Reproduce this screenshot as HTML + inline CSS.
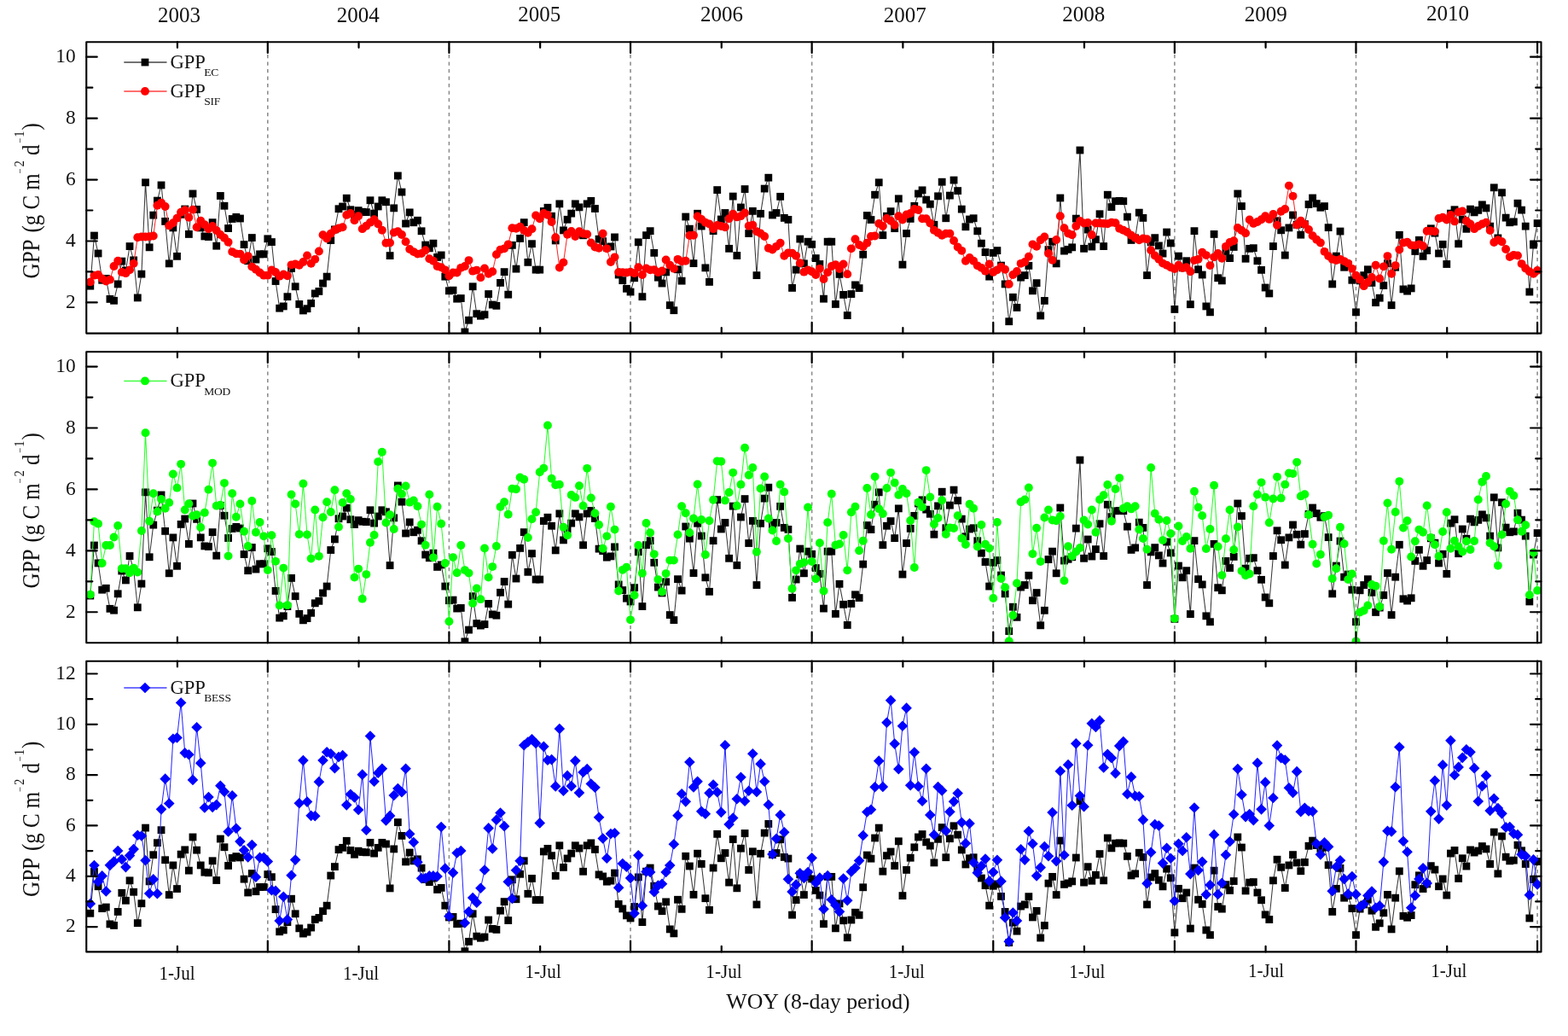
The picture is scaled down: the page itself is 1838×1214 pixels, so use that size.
<!DOCTYPE html>
<html lang="en"><head><meta charset="utf-8"><title>GPP time series: EC, SIF, MOD and BESS</title>
<style>html,body{margin:0;padding:0;background:#fff;overflow:hidden}svg{display:block}text{font-family:"Liberation Serif", "DejaVu Serif", serif;fill:#111}.tk{font-size:23.4px}.yr{font-size:25px}.jl{font-size:24px}.lg{font-size:22.6px}.sb{font-size:13.5px;letter-spacing:-0.2px}.yl{font-size:25px}.sp{font-size:14.5px}.mn{font-size:10.5px}.xl{font-size:25.8px}</style></head><body>
<svg width="1838" height="1214" viewBox="0 0 1838 1214">
<rect width="1838" height="1214" fill="#fff"/>
<defs>
<rect id="sq" x="-4.4" y="-4.4" width="8.8" height="8.8" fill="#000"/>
<circle id="cr" r="4.95" fill="#f00"/>
<circle id="cg" r="4.95" fill="#0f0"/>
<path id="db" d="M0 -6.3L6.3 0L0 6.3L-6.3 0Z" fill="#00f"/>
<clipPath id="clip0"><rect x="101.25" y="49.2" width="1705.25" height="341.4"/></clipPath>
<clipPath id="clip1"><rect x="101.25" y="412.25" width="1705.25" height="341.05"/></clipPath>
<clipPath id="clip2"><rect x="101.25" y="774.7" width="1705.25" height="340.7"/></clipPath>
</defs>
<line x1="313.81" y1="55.55" x2="313.81" y2="390.6" stroke="#8e8e8e" stroke-width="1.6" stroke-dasharray="4.2 4.3"/>
<line x1="526.42" y1="55.55" x2="526.42" y2="390.6" stroke="#8e8e8e" stroke-width="1.6" stroke-dasharray="4.2 4.3"/>
<line x1="739.04" y1="55.55" x2="739.04" y2="390.6" stroke="#8e8e8e" stroke-width="1.6" stroke-dasharray="4.2 4.3"/>
<line x1="951.65" y1="55.55" x2="951.65" y2="390.6" stroke="#8e8e8e" stroke-width="1.6" stroke-dasharray="4.2 4.3"/>
<line x1="1164.26" y1="55.55" x2="1164.26" y2="390.6" stroke="#8e8e8e" stroke-width="1.6" stroke-dasharray="4.2 4.3"/>
<line x1="1376.87" y1="55.55" x2="1376.87" y2="390.6" stroke="#8e8e8e" stroke-width="1.6" stroke-dasharray="4.2 4.3"/>
<line x1="1589.48" y1="55.55" x2="1589.48" y2="390.6" stroke="#8e8e8e" stroke-width="1.6" stroke-dasharray="4.2 4.3"/>
<line x1="1802.1" y1="55.55" x2="1802.1" y2="390.6" stroke="#8e8e8e" stroke-width="1.6" stroke-dasharray="4.2 4.3"/>
<g clip-path="url(#clip0)">
<polyline fill="none" stroke="#383838" stroke-width="1.05" stroke-linejoin="round" points="105.82,335.16 110.44,276.06 115.07,296.97 119.69,328.27 124.31,326.39 128.93,350.43 133.55,352.31 138.18,332.9 142.8,306.11 147.42,317 152.04,288.58 156.66,304.86 161.29,348.93 165.91,321.13 170.53,213.82 175.15,289.83 179.77,252.14 184.4,235.11 189.02,216.95 193.64,259.41 198.26,308.86 202.88,266.92 207.51,300.35 212.13,251.39 216.75,245.01 221.37,274.43 225.99,226.97 230.62,245.38 235.24,266.92 239.86,276.94 244.48,277.56 249.1,260.66 253.73,288.2 258.35,229.47 262.97,241.25 267.59,267.54 272.21,256.53 276.84,254.4 281.46,256.03 286.08,286.58 290.7,305.73 295.32,278.56 299.95,304.1 304.57,297.84 309.19,297.84 313.81,279.81 318.43,283.57 323.06,329.52 327.68,361.2 332.3,358.94 336.92,347.68 341.54,314.5 346.17,335.78 350.79,356.44 355.41,363.95 360.03,361.7 364.65,355.44 369.28,343.92 373.9,341.42 378.52,332.03 383.14,324.14 387.76,281.57 392.39,268.92 397.01,244.75 401.63,241.99 406.25,232.23 410.87,245.75 415.5,251.59 420.12,246.62 424.74,248.25 429.36,248.63 433.98,234.73 438.61,250.13 443.23,241.99 447.85,234.73 452.47,236.73 457.09,299.59 461.72,243.87 466.34,205.93 470.96,225.09 475.58,262.03 480.2,248.88 484.83,260.77 489.45,258.27 494.07,270.79 498.69,287.07 503.31,290.82 507.94,285.19 512.56,301.46 517.18,298.96 521.8,324.14 526.42,340.79 531.05,340.16 535.67,350.18 540.29,349.55 544.91,388.99 549.53,375.22 554.16,335.78 558.78,367.71 563.4,370.21 568.02,368.71 572.64,344.55 577.27,357.07 581.89,358.32 586.51,331.4 591.13,318.63 595.75,345.17 600.38,287.33 605,315.12 609.62,279.44 614.24,260.66 618.86,307.36 623.49,285.7 628.11,316.12 632.73,316.12 637.35,247.51 641.97,243.26 646.6,253.27 651.22,281.94 655.84,238.86 660.46,269.91 665.08,257.27 669.71,250.13 674.33,238.86 678.95,242.87 683.57,275.8 688.19,238.86 692.82,235.36 697.44,244.5 702.06,280.18 706.68,282.68 711.3,290.2 715.93,288.94 720.55,277.93 725.17,322.01 729.79,328.64 734.41,338.29 739.04,342.04 743.66,325.76 748.28,283.82 752.9,347.68 757.52,275.68 762.15,270.68 766.77,296.34 771.39,325.14 776.01,332.03 780.63,318.88 785.26,357.69 789.88,363.7 794.5,315.75 799.12,329.15 803.74,254.02 808.37,268.17 812.99,308.61 817.61,250.27 822.23,265.04 826.85,313.87 831.48,330.4 836.1,270.68 840.72,222.59 845.34,257.02 849.96,249.5 854.59,291.33 859.21,230.1 863.83,299.47 868.45,242.99 873.07,221.58 877.7,273.55 882.32,247.38 886.94,322.63 891.56,250.38 896.18,221.08 900.81,208.19 905.43,252.01 910.05,249.5 914.67,230.35 919.29,255.39 923.92,257.39 928.54,337.41 933.16,316.12 937.78,280.07 942.4,308.86 947.03,283.2 951.65,286.33 956.27,302.6 960.89,309.49 965.51,350.18 970.14,283.2 974.76,283.2 979.38,356.44 984,321.38 988.62,345.42 993.25,369.59 997.87,344.55 1002.49,333.9 1007.11,337.66 1011.73,298.22 1016.36,252.52 1020.98,257.53 1025.6,228.22 1030.22,213.82 1034.84,275.68 1039.47,253.26 1044.09,247.63 1048.71,267.66 1053.33,232.85 1057.95,310.11 1062.58,273.55 1067.2,256.39 1071.82,241.37 1076.44,226.97 1081.06,222.84 1085.69,234.1 1090.31,239.24 1094.93,263.28 1099.55,229.85 1104.17,213.2 1108.8,255.76 1113.42,229.1 1118.04,211.07 1122.66,223.59 1127.28,245.12 1131.91,265.78 1136.53,257.02 1141.15,255.76 1145.77,270.79 1150.39,285.19 1155.02,295.58 1159.64,324.14 1164.26,296.34 1168.88,293.59 1173.5,311.12 1178.13,332.9 1182.75,376.72 1187.37,348.3 1191.99,360.45 1196.61,325.14 1201.24,322.63 1205.86,311.37 1210.48,340.79 1215.1,331.65 1219.72,369.96 1224.35,352.43 1228.97,292.59 1233.59,283.2 1238.21,308.86 1242.83,231.98 1247.46,294.09 1252.08,292.34 1256.7,289.83 1261.32,256.14 1265.94,176.01 1270.57,291.33 1275.19,269.05 1279.81,289.08 1284.43,280.69 1289.05,250.76 1293.68,288.58 1298.3,228.22 1302.92,242.62 1307.54,235.73 1312.16,235.36 1316.79,235.73 1321.41,254.14 1326.03,281.43 1330.65,278.9 1335.27,249.13 1339.9,255.39 1344.52,322.63 1349.14,283.94 1353.76,278.68 1358.38,287.94 1363.01,297.08 1367.63,272.04 1372.25,284.94 1376.87,362.45 1381.49,300.1 1386.12,313.87 1390.74,305.73 1395.36,356.69 1399.98,270.68 1404.6,315.75 1409.23,322.01 1413.85,358.94 1418.47,365.83 1423.09,274.43 1427.71,325.76 1432.34,328.89 1436.96,294.46 1441.58,302.6 1446.2,289.46 1450.82,226.97 1455.45,241.62 1460.07,303.23 1464.69,291.33 1469.31,290.71 1473.93,305.73 1478.56,316.37 1483.18,337.03 1487.8,343.92 1492.42,288.58 1497.04,258.78 1501.67,269.8 1506.29,299.1 1510.91,266.92 1515.53,252.01 1520.15,263.28 1524.78,275.17 1529.4,262.65 1534.02,239.49 1538.64,231.98 1543.26,238.61 1547.89,243.24 1552.51,241.62 1557.13,266.66 1561.75,332.9 1566.37,300.1 1571,271.05 1575.62,313.24 1580.24,310.11 1584.86,328.27 1589.48,365.83 1594.11,328.89 1598.73,322.63 1603.35,315.75 1607.97,331.4 1612.59,354.56 1617.22,349.18 1621.84,334.53 1626.46,308.61 1631.08,357.69 1635.7,313.24 1640.33,275.31 1644.95,338.91 1649.57,341.16 1654.19,337.91 1658.81,294.46 1663.44,281.32 1668.06,300.35 1672.68,293.59 1677.3,267.8 1681.92,273.18 1686.55,296.97 1691.17,286.33 1695.79,309.49 1700.41,250.13 1705.03,245.75 1709.66,285.7 1714.28,257.02 1718.9,268.29 1723.52,245.12 1728.14,248.88 1732.77,246.37 1737.39,239.86 1742.01,243.87 1746.63,265.16 1751.25,219.83 1755.88,278.93 1760.5,225.72 1765.12,255.14 1769.74,260.77 1774.36,259.9 1778.99,238.24 1783.61,246.12 1788.23,265.16 1792.85,342.04 1797.47,287.07 1802.1,261.65"/>
<use href="#sq" x="105.82" y="335.16"/><use href="#sq" x="110.44" y="276.06"/><use href="#sq" x="115.07" y="296.97"/><use href="#sq" x="119.69" y="328.27"/><use href="#sq" x="124.31" y="326.39"/><use href="#sq" x="128.93" y="350.43"/><use href="#sq" x="133.55" y="352.31"/><use href="#sq" x="138.18" y="332.9"/><use href="#sq" x="142.8" y="306.11"/><use href="#sq" x="147.42" y="317"/><use href="#sq" x="152.04" y="288.58"/><use href="#sq" x="156.66" y="304.86"/><use href="#sq" x="161.29" y="348.93"/><use href="#sq" x="165.91" y="321.13"/><use href="#sq" x="170.53" y="213.82"/><use href="#sq" x="175.15" y="289.83"/><use href="#sq" x="179.77" y="252.14"/><use href="#sq" x="184.4" y="235.11"/><use href="#sq" x="189.02" y="216.95"/><use href="#sq" x="193.64" y="259.41"/><use href="#sq" x="198.26" y="308.86"/><use href="#sq" x="202.88" y="266.92"/><use href="#sq" x="207.51" y="300.35"/><use href="#sq" x="212.13" y="251.39"/><use href="#sq" x="216.75" y="245.01"/><use href="#sq" x="221.37" y="274.43"/><use href="#sq" x="225.99" y="226.97"/><use href="#sq" x="230.62" y="245.38"/><use href="#sq" x="235.24" y="266.92"/><use href="#sq" x="239.86" y="276.94"/><use href="#sq" x="244.48" y="277.56"/><use href="#sq" x="249.1" y="260.66"/><use href="#sq" x="253.73" y="288.2"/><use href="#sq" x="258.35" y="229.47"/><use href="#sq" x="262.97" y="241.25"/><use href="#sq" x="267.59" y="267.54"/><use href="#sq" x="272.21" y="256.53"/><use href="#sq" x="276.84" y="254.4"/><use href="#sq" x="281.46" y="256.03"/><use href="#sq" x="286.08" y="286.58"/><use href="#sq" x="290.7" y="305.73"/><use href="#sq" x="295.32" y="278.56"/><use href="#sq" x="299.95" y="304.1"/><use href="#sq" x="304.57" y="297.84"/><use href="#sq" x="309.19" y="297.84"/><use href="#sq" x="313.81" y="279.81"/><use href="#sq" x="318.43" y="283.57"/><use href="#sq" x="323.06" y="329.52"/><use href="#sq" x="327.68" y="361.2"/><use href="#sq" x="332.3" y="358.94"/><use href="#sq" x="336.92" y="347.68"/><use href="#sq" x="341.54" y="314.5"/><use href="#sq" x="346.17" y="335.78"/><use href="#sq" x="350.79" y="356.44"/><use href="#sq" x="355.41" y="363.95"/><use href="#sq" x="360.03" y="361.7"/><use href="#sq" x="364.65" y="355.44"/><use href="#sq" x="369.28" y="343.92"/><use href="#sq" x="373.9" y="341.42"/><use href="#sq" x="378.52" y="332.03"/><use href="#sq" x="383.14" y="324.14"/><use href="#sq" x="387.76" y="281.57"/><use href="#sq" x="392.39" y="268.92"/><use href="#sq" x="397.01" y="244.75"/><use href="#sq" x="401.63" y="241.99"/><use href="#sq" x="406.25" y="232.23"/><use href="#sq" x="410.87" y="245.75"/><use href="#sq" x="415.5" y="251.59"/><use href="#sq" x="420.12" y="246.62"/><use href="#sq" x="424.74" y="248.25"/><use href="#sq" x="429.36" y="248.63"/><use href="#sq" x="433.98" y="234.73"/><use href="#sq" x="438.61" y="250.13"/><use href="#sq" x="443.23" y="241.99"/><use href="#sq" x="447.85" y="234.73"/><use href="#sq" x="452.47" y="236.73"/><use href="#sq" x="457.09" y="299.59"/><use href="#sq" x="461.72" y="243.87"/><use href="#sq" x="466.34" y="205.93"/><use href="#sq" x="470.96" y="225.09"/><use href="#sq" x="475.58" y="262.03"/><use href="#sq" x="480.2" y="248.88"/><use href="#sq" x="484.83" y="260.77"/><use href="#sq" x="489.45" y="258.27"/><use href="#sq" x="494.07" y="270.79"/><use href="#sq" x="498.69" y="287.07"/><use href="#sq" x="503.31" y="290.82"/><use href="#sq" x="507.94" y="285.19"/><use href="#sq" x="512.56" y="301.46"/><use href="#sq" x="517.18" y="298.96"/><use href="#sq" x="521.8" y="324.14"/><use href="#sq" x="526.42" y="340.79"/><use href="#sq" x="531.05" y="340.16"/><use href="#sq" x="535.67" y="350.18"/><use href="#sq" x="540.29" y="349.55"/><use href="#sq" x="544.91" y="388.99"/><use href="#sq" x="549.53" y="375.22"/><use href="#sq" x="554.16" y="335.78"/><use href="#sq" x="558.78" y="367.71"/><use href="#sq" x="563.4" y="370.21"/><use href="#sq" x="568.02" y="368.71"/><use href="#sq" x="572.64" y="344.55"/><use href="#sq" x="577.27" y="357.07"/><use href="#sq" x="581.89" y="358.32"/><use href="#sq" x="586.51" y="331.4"/><use href="#sq" x="591.13" y="318.63"/><use href="#sq" x="595.75" y="345.17"/><use href="#sq" x="600.38" y="287.33"/><use href="#sq" x="605" y="315.12"/><use href="#sq" x="609.62" y="279.44"/><use href="#sq" x="614.24" y="260.66"/><use href="#sq" x="618.86" y="307.36"/><use href="#sq" x="623.49" y="285.7"/><use href="#sq" x="628.11" y="316.12"/><use href="#sq" x="632.73" y="316.12"/><use href="#sq" x="637.35" y="247.51"/><use href="#sq" x="641.97" y="243.26"/><use href="#sq" x="646.6" y="253.27"/><use href="#sq" x="651.22" y="281.94"/><use href="#sq" x="655.84" y="238.86"/><use href="#sq" x="660.46" y="269.91"/><use href="#sq" x="665.08" y="257.27"/><use href="#sq" x="669.71" y="250.13"/><use href="#sq" x="674.33" y="238.86"/><use href="#sq" x="678.95" y="242.87"/><use href="#sq" x="683.57" y="275.8"/><use href="#sq" x="688.19" y="238.86"/><use href="#sq" x="692.82" y="235.36"/><use href="#sq" x="697.44" y="244.5"/><use href="#sq" x="702.06" y="280.18"/><use href="#sq" x="706.68" y="282.68"/><use href="#sq" x="711.3" y="290.2"/><use href="#sq" x="715.93" y="288.94"/><use href="#sq" x="720.55" y="277.93"/><use href="#sq" x="725.17" y="322.01"/><use href="#sq" x="729.79" y="328.64"/><use href="#sq" x="734.41" y="338.29"/><use href="#sq" x="739.04" y="342.04"/><use href="#sq" x="743.66" y="325.76"/><use href="#sq" x="748.28" y="283.82"/><use href="#sq" x="752.9" y="347.68"/><use href="#sq" x="757.52" y="275.68"/><use href="#sq" x="762.15" y="270.68"/><use href="#sq" x="766.77" y="296.34"/><use href="#sq" x="771.39" y="325.14"/><use href="#sq" x="776.01" y="332.03"/><use href="#sq" x="780.63" y="318.88"/><use href="#sq" x="785.26" y="357.69"/><use href="#sq" x="789.88" y="363.7"/><use href="#sq" x="794.5" y="315.75"/><use href="#sq" x="799.12" y="329.15"/><use href="#sq" x="803.74" y="254.02"/><use href="#sq" x="808.37" y="268.17"/><use href="#sq" x="812.99" y="308.61"/><use href="#sq" x="817.61" y="250.27"/><use href="#sq" x="822.23" y="265.04"/><use href="#sq" x="826.85" y="313.87"/><use href="#sq" x="831.48" y="330.4"/><use href="#sq" x="836.1" y="270.68"/><use href="#sq" x="840.72" y="222.59"/><use href="#sq" x="845.34" y="257.02"/><use href="#sq" x="849.96" y="249.5"/><use href="#sq" x="854.59" y="291.33"/><use href="#sq" x="859.21" y="230.1"/><use href="#sq" x="863.83" y="299.47"/><use href="#sq" x="868.45" y="242.99"/><use href="#sq" x="873.07" y="221.58"/><use href="#sq" x="877.7" y="273.55"/><use href="#sq" x="882.32" y="247.38"/><use href="#sq" x="886.94" y="322.63"/><use href="#sq" x="891.56" y="250.38"/><use href="#sq" x="896.18" y="221.08"/><use href="#sq" x="900.81" y="208.19"/><use href="#sq" x="905.43" y="252.01"/><use href="#sq" x="910.05" y="249.5"/><use href="#sq" x="914.67" y="230.35"/><use href="#sq" x="919.29" y="255.39"/><use href="#sq" x="923.92" y="257.39"/><use href="#sq" x="928.54" y="337.41"/><use href="#sq" x="933.16" y="316.12"/><use href="#sq" x="937.78" y="280.07"/><use href="#sq" x="942.4" y="308.86"/><use href="#sq" x="947.03" y="283.2"/><use href="#sq" x="951.65" y="286.33"/><use href="#sq" x="956.27" y="302.6"/><use href="#sq" x="960.89" y="309.49"/><use href="#sq" x="965.51" y="350.18"/><use href="#sq" x="970.14" y="283.2"/><use href="#sq" x="974.76" y="283.2"/><use href="#sq" x="979.38" y="356.44"/><use href="#sq" x="984" y="321.38"/><use href="#sq" x="988.62" y="345.42"/><use href="#sq" x="993.25" y="369.59"/><use href="#sq" x="997.87" y="344.55"/><use href="#sq" x="1002.49" y="333.9"/><use href="#sq" x="1007.11" y="337.66"/><use href="#sq" x="1011.73" y="298.22"/><use href="#sq" x="1016.36" y="252.52"/><use href="#sq" x="1020.98" y="257.53"/><use href="#sq" x="1025.6" y="228.22"/><use href="#sq" x="1030.22" y="213.82"/><use href="#sq" x="1034.84" y="275.68"/><use href="#sq" x="1039.47" y="253.26"/><use href="#sq" x="1044.09" y="247.63"/><use href="#sq" x="1048.71" y="267.66"/><use href="#sq" x="1053.33" y="232.85"/><use href="#sq" x="1057.95" y="310.11"/><use href="#sq" x="1062.58" y="273.55"/><use href="#sq" x="1067.2" y="256.39"/><use href="#sq" x="1071.82" y="241.37"/><use href="#sq" x="1076.44" y="226.97"/><use href="#sq" x="1081.06" y="222.84"/><use href="#sq" x="1085.69" y="234.1"/><use href="#sq" x="1090.31" y="239.24"/><use href="#sq" x="1094.93" y="263.28"/><use href="#sq" x="1099.55" y="229.85"/><use href="#sq" x="1104.17" y="213.2"/><use href="#sq" x="1108.8" y="255.76"/><use href="#sq" x="1113.42" y="229.1"/><use href="#sq" x="1118.04" y="211.07"/><use href="#sq" x="1122.66" y="223.59"/><use href="#sq" x="1127.28" y="245.12"/><use href="#sq" x="1131.91" y="265.78"/><use href="#sq" x="1136.53" y="257.02"/><use href="#sq" x="1141.15" y="255.76"/><use href="#sq" x="1145.77" y="270.79"/><use href="#sq" x="1150.39" y="285.19"/><use href="#sq" x="1155.02" y="295.58"/><use href="#sq" x="1159.64" y="324.14"/><use href="#sq" x="1164.26" y="296.34"/><use href="#sq" x="1168.88" y="293.59"/><use href="#sq" x="1173.5" y="311.12"/><use href="#sq" x="1178.13" y="332.9"/><use href="#sq" x="1182.75" y="376.72"/><use href="#sq" x="1187.37" y="348.3"/><use href="#sq" x="1191.99" y="360.45"/><use href="#sq" x="1196.61" y="325.14"/><use href="#sq" x="1201.24" y="322.63"/><use href="#sq" x="1205.86" y="311.37"/><use href="#sq" x="1210.48" y="340.79"/><use href="#sq" x="1215.1" y="331.65"/><use href="#sq" x="1219.72" y="369.96"/><use href="#sq" x="1224.35" y="352.43"/><use href="#sq" x="1228.97" y="292.59"/><use href="#sq" x="1233.59" y="283.2"/><use href="#sq" x="1238.21" y="308.86"/><use href="#sq" x="1242.83" y="231.98"/><use href="#sq" x="1247.46" y="294.09"/><use href="#sq" x="1252.08" y="292.34"/><use href="#sq" x="1256.7" y="289.83"/><use href="#sq" x="1261.32" y="256.14"/><use href="#sq" x="1265.94" y="176.01"/><use href="#sq" x="1270.57" y="291.33"/><use href="#sq" x="1275.19" y="269.05"/><use href="#sq" x="1279.81" y="289.08"/><use href="#sq" x="1284.43" y="280.69"/><use href="#sq" x="1289.05" y="250.76"/><use href="#sq" x="1293.68" y="288.58"/><use href="#sq" x="1298.3" y="228.22"/><use href="#sq" x="1302.92" y="242.62"/><use href="#sq" x="1307.54" y="235.73"/><use href="#sq" x="1312.16" y="235.36"/><use href="#sq" x="1316.79" y="235.73"/><use href="#sq" x="1321.41" y="254.14"/><use href="#sq" x="1326.03" y="281.43"/><use href="#sq" x="1330.65" y="278.9"/><use href="#sq" x="1335.27" y="249.13"/><use href="#sq" x="1339.9" y="255.39"/><use href="#sq" x="1344.52" y="322.63"/><use href="#sq" x="1349.14" y="283.94"/><use href="#sq" x="1353.76" y="278.68"/><use href="#sq" x="1358.38" y="287.94"/><use href="#sq" x="1363.01" y="297.08"/><use href="#sq" x="1367.63" y="272.04"/><use href="#sq" x="1372.25" y="284.94"/><use href="#sq" x="1376.87" y="362.45"/><use href="#sq" x="1381.49" y="300.1"/><use href="#sq" x="1386.12" y="313.87"/><use href="#sq" x="1390.74" y="305.73"/><use href="#sq" x="1395.36" y="356.69"/><use href="#sq" x="1399.98" y="270.68"/><use href="#sq" x="1404.6" y="315.75"/><use href="#sq" x="1409.23" y="322.01"/><use href="#sq" x="1413.85" y="358.94"/><use href="#sq" x="1418.47" y="365.83"/><use href="#sq" x="1423.09" y="274.43"/><use href="#sq" x="1427.71" y="325.76"/><use href="#sq" x="1432.34" y="328.89"/><use href="#sq" x="1436.96" y="294.46"/><use href="#sq" x="1441.58" y="302.6"/><use href="#sq" x="1446.2" y="289.46"/><use href="#sq" x="1450.82" y="226.97"/><use href="#sq" x="1455.45" y="241.62"/><use href="#sq" x="1460.07" y="303.23"/><use href="#sq" x="1464.69" y="291.33"/><use href="#sq" x="1469.31" y="290.71"/><use href="#sq" x="1473.93" y="305.73"/><use href="#sq" x="1478.56" y="316.37"/><use href="#sq" x="1483.18" y="337.03"/><use href="#sq" x="1487.8" y="343.92"/><use href="#sq" x="1492.42" y="288.58"/><use href="#sq" x="1497.04" y="258.78"/><use href="#sq" x="1501.67" y="269.8"/><use href="#sq" x="1506.29" y="299.1"/><use href="#sq" x="1510.91" y="266.92"/><use href="#sq" x="1515.53" y="252.01"/><use href="#sq" x="1520.15" y="263.28"/><use href="#sq" x="1524.78" y="275.17"/><use href="#sq" x="1529.4" y="262.65"/><use href="#sq" x="1534.02" y="239.49"/><use href="#sq" x="1538.64" y="231.98"/><use href="#sq" x="1543.26" y="238.61"/><use href="#sq" x="1547.89" y="243.24"/><use href="#sq" x="1552.51" y="241.62"/><use href="#sq" x="1557.13" y="266.66"/><use href="#sq" x="1561.75" y="332.9"/><use href="#sq" x="1566.37" y="300.1"/><use href="#sq" x="1571" y="271.05"/><use href="#sq" x="1575.62" y="313.24"/><use href="#sq" x="1580.24" y="310.11"/><use href="#sq" x="1584.86" y="328.27"/><use href="#sq" x="1589.48" y="365.83"/><use href="#sq" x="1594.11" y="328.89"/><use href="#sq" x="1598.73" y="322.63"/><use href="#sq" x="1603.35" y="315.75"/><use href="#sq" x="1607.97" y="331.4"/><use href="#sq" x="1612.59" y="354.56"/><use href="#sq" x="1617.22" y="349.18"/><use href="#sq" x="1621.84" y="334.53"/><use href="#sq" x="1626.46" y="308.61"/><use href="#sq" x="1631.08" y="357.69"/><use href="#sq" x="1635.7" y="313.24"/><use href="#sq" x="1640.33" y="275.31"/><use href="#sq" x="1644.95" y="338.91"/><use href="#sq" x="1649.57" y="341.16"/><use href="#sq" x="1654.19" y="337.91"/><use href="#sq" x="1658.81" y="294.46"/><use href="#sq" x="1663.44" y="281.32"/><use href="#sq" x="1668.06" y="300.35"/><use href="#sq" x="1672.68" y="293.59"/><use href="#sq" x="1677.3" y="267.8"/><use href="#sq" x="1681.92" y="273.18"/><use href="#sq" x="1686.55" y="296.97"/><use href="#sq" x="1691.17" y="286.33"/><use href="#sq" x="1695.79" y="309.49"/><use href="#sq" x="1700.41" y="250.13"/><use href="#sq" x="1705.03" y="245.75"/><use href="#sq" x="1709.66" y="285.7"/><use href="#sq" x="1714.28" y="257.02"/><use href="#sq" x="1718.9" y="268.29"/><use href="#sq" x="1723.52" y="245.12"/><use href="#sq" x="1728.14" y="248.88"/><use href="#sq" x="1732.77" y="246.37"/><use href="#sq" x="1737.39" y="239.86"/><use href="#sq" x="1742.01" y="243.87"/><use href="#sq" x="1746.63" y="265.16"/><use href="#sq" x="1751.25" y="219.83"/><use href="#sq" x="1755.88" y="278.93"/><use href="#sq" x="1760.5" y="225.72"/><use href="#sq" x="1765.12" y="255.14"/><use href="#sq" x="1769.74" y="260.77"/><use href="#sq" x="1774.36" y="259.9"/><use href="#sq" x="1778.99" y="238.24"/><use href="#sq" x="1783.61" y="246.12"/><use href="#sq" x="1788.23" y="265.16"/><use href="#sq" x="1792.85" y="342.04"/><use href="#sq" x="1797.47" y="287.07"/><use href="#sq" x="1802.1" y="261.65"/>
</g>
<g clip-path="url(#clip0)">
<polyline fill="none" stroke="#ff2a2a" stroke-width="1.05" stroke-linejoin="round" points="105.82,330.4 110.44,322.63 115.07,322.01 119.69,326.39 124.31,329.52 128.93,327.64 133.55,311.99 138.18,305.73 142.8,318.88 147.42,320.13 152.04,316.37 156.66,308.86 161.29,278.19 165.91,277.56 170.53,277.56 175.15,277.31 179.77,276.56 184.4,240.74 189.02,237.61 193.64,241.99 198.26,264.41 202.88,261.28 207.51,255.65 212.13,248.76 216.75,246.26 221.37,254.77 225.99,245.63 230.62,266.29 235.24,258.78 239.86,263.16 244.48,268.17 249.1,265.04 253.73,270.05 258.35,275.06 262.97,278.81 267.59,283.82 272.21,295.09 276.84,297.34 281.46,297.59 286.08,304.48 290.7,300.1 295.32,312.62 299.95,315.75 304.57,319.5 309.19,322.63 313.81,322.63 318.43,316.37 323.06,318.88 327.68,323.64 332.3,321.38 336.92,323.26 341.54,310.36 346.17,309.49 350.79,310.74 355.41,306.98 360.03,299.47 364.65,308.86 369.28,303.85 373.9,294.46 378.52,275.31 383.14,279.44 387.76,273.81 392.39,269.42 397.01,267.54 401.63,266.29 406.25,251.89 410.87,250.02 415.5,258.15 420.12,253.15 424.74,268.17 429.36,264.79 433.98,260.66 438.61,257.28 443.23,262.54 447.85,269.8 452.47,284.7 457.09,284.45 461.72,272.55 466.34,271.3 470.96,275.06 475.58,283.2 480.2,291.96 484.83,295.09 489.45,297.59 494.07,296.97 498.69,293.21 503.31,303.23 507.94,305.73 512.56,311.99 517.18,313.24 521.8,316.37 526.42,323.26 531.05,319.5 535.67,319.5 540.29,313.87 544.91,311.99 549.53,305.11 554.16,317.63 558.78,316.62 563.4,325.14 568.02,314.5 572.64,320.76 577.27,318.25 581.89,298.22 586.51,292.59 591.13,291.33 595.75,286.33 600.38,267.29 605,267.8 609.62,265.67 614.24,270.05 618.86,272.8 623.49,268.17 628.11,252.52 632.73,256.28 637.35,250.02 641.97,251.89 646.6,260.03 651.22,278.19 655.84,313.62 660.46,307.61 665.08,274.81 669.71,271.05 674.33,276.94 678.95,271.3 683.57,273.81 688.19,274.43 692.82,284.45 697.44,289.46 702.06,290.71 706.68,273.81 711.3,291.33 715.93,306.98 720.55,301.35 725.17,318.88 729.79,319.13 734.41,319.5 739.04,318.63 743.66,320.13 748.28,313.24 752.9,322.01 757.52,314.5 762.15,316.37 766.77,316.12 771.39,319.13 776.01,317.38 780.63,304.48 785.26,310.74 789.88,314.87 794.5,303.85 799.12,306.36 803.74,305.73 808.37,276.06 812.99,275.68 817.61,253.52 822.23,256.9 826.85,260.66 831.48,262.54 836.1,268.17 840.72,264.04 845.34,265.04 849.96,266.29 854.59,256.28 859.21,250.64 863.83,254.4 868.45,253.15 873.07,249.39 877.7,264.79 882.32,263.79 886.94,271.3 891.56,273.55 896.18,276.94 900.81,290.71 905.43,292.59 910.05,288.83 914.67,284.82 919.29,299.85 923.92,296.34 928.54,296.59 933.16,299.85 937.78,308.24 942.4,318.63 947.03,316.37 951.65,318.25 956.27,322.01 960.89,314.87 965.51,327.02 970.14,319.13 974.76,311.99 979.38,310.11 984,315.12 988.62,309.49 993.25,321.13 997.87,291.33 1002.49,280.32 1007.11,286.95 1011.73,289.08 1016.36,284.82 1020.98,276.94 1025.6,276.56 1030.22,261.91 1034.84,265.04 1039.47,256.03 1044.09,258.78 1048.71,263.79 1053.33,253.15 1057.95,257.53 1062.58,251.52 1067.2,250.02 1071.82,245.01 1076.44,246.01 1081.06,256.28 1085.69,256.28 1090.31,261.54 1094.93,269.8 1099.55,272.8 1104.17,275.68 1108.8,273.81 1113.42,273.81 1118.04,281.94 1122.66,289.46 1127.28,293.84 1131.91,305.73 1136.53,301.98 1141.15,305.73 1145.77,311.37 1150.39,313.87 1155.02,317.63 1159.64,309.49 1164.26,318.88 1168.88,316.37 1173.5,312.62 1178.13,315.75 1182.75,332.9 1187.37,322.01 1191.99,317.88 1196.61,308.86 1201.24,306.98 1205.86,300.72 1210.48,286.33 1215.1,288.83 1219.72,281.32 1224.35,277.56 1228.97,296.97 1233.59,304.86 1238.21,281.07 1242.83,253.15 1247.46,267.29 1252.08,273.55 1256.7,275.31 1261.32,265.04 1265.94,259.03 1270.57,261.54 1275.19,261.03 1279.81,275.31 1284.43,261.54 1289.05,261.54 1293.68,261.91 1298.3,262.29 1302.92,260.66 1307.54,261.28 1312.16,267.8 1316.79,269.8 1321.41,271.93 1326.03,275.68 1330.65,278.81 1335.27,281.32 1339.9,279.44 1344.52,280.32 1349.14,293.21 1353.76,299.47 1358.38,303.85 1363.01,308.61 1367.63,310.74 1372.25,313.24 1376.87,315.12 1381.49,310.74 1386.12,314.12 1390.74,313.24 1395.36,318.25 1399.98,305.11 1404.6,303.85 1409.23,295.72 1413.85,299.1 1418.47,311.12 1423.09,301.35 1427.71,296.97 1432.34,302.85 1436.96,288.83 1441.58,284.07 1446.2,282.32 1450.82,266.92 1455.45,270.05 1460.07,273.18 1464.69,257.53 1469.31,261.91 1473.93,260.03 1478.56,257.28 1483.18,253.15 1487.8,256.9 1492.42,251.02 1497.04,263.79 1501.67,247.76 1506.29,245.01 1510.91,217.58 1515.53,229.85 1520.15,263.54 1524.78,258.78 1529.4,262.79 1534.02,269.05 1538.64,276.31 1543.26,280.69 1547.89,284.45 1552.51,294.84 1557.13,300.1 1561.75,303.85 1566.37,305.11 1571,303.85 1575.62,306.11 1580.24,308.61 1584.86,314.87 1589.48,322.63 1594.11,327.64 1598.73,335.16 1603.35,330.77 1607.97,324.89 1612.59,310.74 1617.22,326.39 1621.84,312.37 1626.46,300.1 1631.08,320.76 1635.7,311.12 1640.33,292.59 1644.95,284.45 1649.57,283.82 1654.19,287.33 1658.81,287.58 1663.44,286.33 1668.06,288.2 1672.68,270.68 1677.3,270.68 1681.92,271.3 1686.55,256.03 1691.17,254.77 1695.79,257.53 1700.41,251.89 1705.03,259.41 1709.66,248.51 1714.28,247.51 1718.9,259.03 1723.52,262.54 1728.14,268.17 1732.77,265.04 1737.39,262.54 1742.01,260.66 1746.63,270.05 1751.25,284.07 1755.88,281.32 1760.5,283.2 1765.12,291.96 1769.74,301.1 1774.36,298.85 1778.99,299.47 1783.61,309.11 1788.23,314.5 1792.85,318.25 1797.47,320.76 1802.1,317"/>
<use href="#cr" x="105.82" y="330.4"/><use href="#cr" x="110.44" y="322.63"/><use href="#cr" x="115.07" y="322.01"/><use href="#cr" x="119.69" y="326.39"/><use href="#cr" x="124.31" y="329.52"/><use href="#cr" x="128.93" y="327.64"/><use href="#cr" x="133.55" y="311.99"/><use href="#cr" x="138.18" y="305.73"/><use href="#cr" x="142.8" y="318.88"/><use href="#cr" x="147.42" y="320.13"/><use href="#cr" x="152.04" y="316.37"/><use href="#cr" x="156.66" y="308.86"/><use href="#cr" x="161.29" y="278.19"/><use href="#cr" x="165.91" y="277.56"/><use href="#cr" x="170.53" y="277.56"/><use href="#cr" x="175.15" y="277.31"/><use href="#cr" x="179.77" y="276.56"/><use href="#cr" x="184.4" y="240.74"/><use href="#cr" x="189.02" y="237.61"/><use href="#cr" x="193.64" y="241.99"/><use href="#cr" x="198.26" y="264.41"/><use href="#cr" x="202.88" y="261.28"/><use href="#cr" x="207.51" y="255.65"/><use href="#cr" x="212.13" y="248.76"/><use href="#cr" x="216.75" y="246.26"/><use href="#cr" x="221.37" y="254.77"/><use href="#cr" x="225.99" y="245.63"/><use href="#cr" x="230.62" y="266.29"/><use href="#cr" x="235.24" y="258.78"/><use href="#cr" x="239.86" y="263.16"/><use href="#cr" x="244.48" y="268.17"/><use href="#cr" x="249.1" y="265.04"/><use href="#cr" x="253.73" y="270.05"/><use href="#cr" x="258.35" y="275.06"/><use href="#cr" x="262.97" y="278.81"/><use href="#cr" x="267.59" y="283.82"/><use href="#cr" x="272.21" y="295.09"/><use href="#cr" x="276.84" y="297.34"/><use href="#cr" x="281.46" y="297.59"/><use href="#cr" x="286.08" y="304.48"/><use href="#cr" x="290.7" y="300.1"/><use href="#cr" x="295.32" y="312.62"/><use href="#cr" x="299.95" y="315.75"/><use href="#cr" x="304.57" y="319.5"/><use href="#cr" x="309.19" y="322.63"/><use href="#cr" x="313.81" y="322.63"/><use href="#cr" x="318.43" y="316.37"/><use href="#cr" x="323.06" y="318.88"/><use href="#cr" x="327.68" y="323.64"/><use href="#cr" x="332.3" y="321.38"/><use href="#cr" x="336.92" y="323.26"/><use href="#cr" x="341.54" y="310.36"/><use href="#cr" x="346.17" y="309.49"/><use href="#cr" x="350.79" y="310.74"/><use href="#cr" x="355.41" y="306.98"/><use href="#cr" x="360.03" y="299.47"/><use href="#cr" x="364.65" y="308.86"/><use href="#cr" x="369.28" y="303.85"/><use href="#cr" x="373.9" y="294.46"/><use href="#cr" x="378.52" y="275.31"/><use href="#cr" x="383.14" y="279.44"/><use href="#cr" x="387.76" y="273.81"/><use href="#cr" x="392.39" y="269.42"/><use href="#cr" x="397.01" y="267.54"/><use href="#cr" x="401.63" y="266.29"/><use href="#cr" x="406.25" y="251.89"/><use href="#cr" x="410.87" y="250.02"/><use href="#cr" x="415.5" y="258.15"/><use href="#cr" x="420.12" y="253.15"/><use href="#cr" x="424.74" y="268.17"/><use href="#cr" x="429.36" y="264.79"/><use href="#cr" x="433.98" y="260.66"/><use href="#cr" x="438.61" y="257.28"/><use href="#cr" x="443.23" y="262.54"/><use href="#cr" x="447.85" y="269.8"/><use href="#cr" x="452.47" y="284.7"/><use href="#cr" x="457.09" y="284.45"/><use href="#cr" x="461.72" y="272.55"/><use href="#cr" x="466.34" y="271.3"/><use href="#cr" x="470.96" y="275.06"/><use href="#cr" x="475.58" y="283.2"/><use href="#cr" x="480.2" y="291.96"/><use href="#cr" x="484.83" y="295.09"/><use href="#cr" x="489.45" y="297.59"/><use href="#cr" x="494.07" y="296.97"/><use href="#cr" x="498.69" y="293.21"/><use href="#cr" x="503.31" y="303.23"/><use href="#cr" x="507.94" y="305.73"/><use href="#cr" x="512.56" y="311.99"/><use href="#cr" x="517.18" y="313.24"/><use href="#cr" x="521.8" y="316.37"/><use href="#cr" x="526.42" y="323.26"/><use href="#cr" x="531.05" y="319.5"/><use href="#cr" x="535.67" y="319.5"/><use href="#cr" x="540.29" y="313.87"/><use href="#cr" x="544.91" y="311.99"/><use href="#cr" x="549.53" y="305.11"/><use href="#cr" x="554.16" y="317.63"/><use href="#cr" x="558.78" y="316.62"/><use href="#cr" x="563.4" y="325.14"/><use href="#cr" x="568.02" y="314.5"/><use href="#cr" x="572.64" y="320.76"/><use href="#cr" x="577.27" y="318.25"/><use href="#cr" x="581.89" y="298.22"/><use href="#cr" x="586.51" y="292.59"/><use href="#cr" x="591.13" y="291.33"/><use href="#cr" x="595.75" y="286.33"/><use href="#cr" x="600.38" y="267.29"/><use href="#cr" x="605" y="267.8"/><use href="#cr" x="609.62" y="265.67"/><use href="#cr" x="614.24" y="270.05"/><use href="#cr" x="618.86" y="272.8"/><use href="#cr" x="623.49" y="268.17"/><use href="#cr" x="628.11" y="252.52"/><use href="#cr" x="632.73" y="256.28"/><use href="#cr" x="637.35" y="250.02"/><use href="#cr" x="641.97" y="251.89"/><use href="#cr" x="646.6" y="260.03"/><use href="#cr" x="651.22" y="278.19"/><use href="#cr" x="655.84" y="313.62"/><use href="#cr" x="660.46" y="307.61"/><use href="#cr" x="665.08" y="274.81"/><use href="#cr" x="669.71" y="271.05"/><use href="#cr" x="674.33" y="276.94"/><use href="#cr" x="678.95" y="271.3"/><use href="#cr" x="683.57" y="273.81"/><use href="#cr" x="688.19" y="274.43"/><use href="#cr" x="692.82" y="284.45"/><use href="#cr" x="697.44" y="289.46"/><use href="#cr" x="702.06" y="290.71"/><use href="#cr" x="706.68" y="273.81"/><use href="#cr" x="711.3" y="291.33"/><use href="#cr" x="715.93" y="306.98"/><use href="#cr" x="720.55" y="301.35"/><use href="#cr" x="725.17" y="318.88"/><use href="#cr" x="729.79" y="319.13"/><use href="#cr" x="734.41" y="319.5"/><use href="#cr" x="739.04" y="318.63"/><use href="#cr" x="743.66" y="320.13"/><use href="#cr" x="748.28" y="313.24"/><use href="#cr" x="752.9" y="322.01"/><use href="#cr" x="757.52" y="314.5"/><use href="#cr" x="762.15" y="316.37"/><use href="#cr" x="766.77" y="316.12"/><use href="#cr" x="771.39" y="319.13"/><use href="#cr" x="776.01" y="317.38"/><use href="#cr" x="780.63" y="304.48"/><use href="#cr" x="785.26" y="310.74"/><use href="#cr" x="789.88" y="314.87"/><use href="#cr" x="794.5" y="303.85"/><use href="#cr" x="799.12" y="306.36"/><use href="#cr" x="803.74" y="305.73"/><use href="#cr" x="808.37" y="276.06"/><use href="#cr" x="812.99" y="275.68"/><use href="#cr" x="817.61" y="253.52"/><use href="#cr" x="822.23" y="256.9"/><use href="#cr" x="826.85" y="260.66"/><use href="#cr" x="831.48" y="262.54"/><use href="#cr" x="836.1" y="268.17"/><use href="#cr" x="840.72" y="264.04"/><use href="#cr" x="845.34" y="265.04"/><use href="#cr" x="849.96" y="266.29"/><use href="#cr" x="854.59" y="256.28"/><use href="#cr" x="859.21" y="250.64"/><use href="#cr" x="863.83" y="254.4"/><use href="#cr" x="868.45" y="253.15"/><use href="#cr" x="873.07" y="249.39"/><use href="#cr" x="877.7" y="264.79"/><use href="#cr" x="882.32" y="263.79"/><use href="#cr" x="886.94" y="271.3"/><use href="#cr" x="891.56" y="273.55"/><use href="#cr" x="896.18" y="276.94"/><use href="#cr" x="900.81" y="290.71"/><use href="#cr" x="905.43" y="292.59"/><use href="#cr" x="910.05" y="288.83"/><use href="#cr" x="914.67" y="284.82"/><use href="#cr" x="919.29" y="299.85"/><use href="#cr" x="923.92" y="296.34"/><use href="#cr" x="928.54" y="296.59"/><use href="#cr" x="933.16" y="299.85"/><use href="#cr" x="937.78" y="308.24"/><use href="#cr" x="942.4" y="318.63"/><use href="#cr" x="947.03" y="316.37"/><use href="#cr" x="951.65" y="318.25"/><use href="#cr" x="956.27" y="322.01"/><use href="#cr" x="960.89" y="314.87"/><use href="#cr" x="965.51" y="327.02"/><use href="#cr" x="970.14" y="319.13"/><use href="#cr" x="974.76" y="311.99"/><use href="#cr" x="979.38" y="310.11"/><use href="#cr" x="984" y="315.12"/><use href="#cr" x="988.62" y="309.49"/><use href="#cr" x="993.25" y="321.13"/><use href="#cr" x="997.87" y="291.33"/><use href="#cr" x="1002.49" y="280.32"/><use href="#cr" x="1007.11" y="286.95"/><use href="#cr" x="1011.73" y="289.08"/><use href="#cr" x="1016.36" y="284.82"/><use href="#cr" x="1020.98" y="276.94"/><use href="#cr" x="1025.6" y="276.56"/><use href="#cr" x="1030.22" y="261.91"/><use href="#cr" x="1034.84" y="265.04"/><use href="#cr" x="1039.47" y="256.03"/><use href="#cr" x="1044.09" y="258.78"/><use href="#cr" x="1048.71" y="263.79"/><use href="#cr" x="1053.33" y="253.15"/><use href="#cr" x="1057.95" y="257.53"/><use href="#cr" x="1062.58" y="251.52"/><use href="#cr" x="1067.2" y="250.02"/><use href="#cr" x="1071.82" y="245.01"/><use href="#cr" x="1076.44" y="246.01"/><use href="#cr" x="1081.06" y="256.28"/><use href="#cr" x="1085.69" y="256.28"/><use href="#cr" x="1090.31" y="261.54"/><use href="#cr" x="1094.93" y="269.8"/><use href="#cr" x="1099.55" y="272.8"/><use href="#cr" x="1104.17" y="275.68"/><use href="#cr" x="1108.8" y="273.81"/><use href="#cr" x="1113.42" y="273.81"/><use href="#cr" x="1118.04" y="281.94"/><use href="#cr" x="1122.66" y="289.46"/><use href="#cr" x="1127.28" y="293.84"/><use href="#cr" x="1131.91" y="305.73"/><use href="#cr" x="1136.53" y="301.98"/><use href="#cr" x="1141.15" y="305.73"/><use href="#cr" x="1145.77" y="311.37"/><use href="#cr" x="1150.39" y="313.87"/><use href="#cr" x="1155.02" y="317.63"/><use href="#cr" x="1159.64" y="309.49"/><use href="#cr" x="1164.26" y="318.88"/><use href="#cr" x="1168.88" y="316.37"/><use href="#cr" x="1173.5" y="312.62"/><use href="#cr" x="1178.13" y="315.75"/><use href="#cr" x="1182.75" y="332.9"/><use href="#cr" x="1187.37" y="322.01"/><use href="#cr" x="1191.99" y="317.88"/><use href="#cr" x="1196.61" y="308.86"/><use href="#cr" x="1201.24" y="306.98"/><use href="#cr" x="1205.86" y="300.72"/><use href="#cr" x="1210.48" y="286.33"/><use href="#cr" x="1215.1" y="288.83"/><use href="#cr" x="1219.72" y="281.32"/><use href="#cr" x="1224.35" y="277.56"/><use href="#cr" x="1228.97" y="296.97"/><use href="#cr" x="1233.59" y="304.86"/><use href="#cr" x="1238.21" y="281.07"/><use href="#cr" x="1242.83" y="253.15"/><use href="#cr" x="1247.46" y="267.29"/><use href="#cr" x="1252.08" y="273.55"/><use href="#cr" x="1256.7" y="275.31"/><use href="#cr" x="1261.32" y="265.04"/><use href="#cr" x="1265.94" y="259.03"/><use href="#cr" x="1270.57" y="261.54"/><use href="#cr" x="1275.19" y="261.03"/><use href="#cr" x="1279.81" y="275.31"/><use href="#cr" x="1284.43" y="261.54"/><use href="#cr" x="1289.05" y="261.54"/><use href="#cr" x="1293.68" y="261.91"/><use href="#cr" x="1298.3" y="262.29"/><use href="#cr" x="1302.92" y="260.66"/><use href="#cr" x="1307.54" y="261.28"/><use href="#cr" x="1312.16" y="267.8"/><use href="#cr" x="1316.79" y="269.8"/><use href="#cr" x="1321.41" y="271.93"/><use href="#cr" x="1326.03" y="275.68"/><use href="#cr" x="1330.65" y="278.81"/><use href="#cr" x="1335.27" y="281.32"/><use href="#cr" x="1339.9" y="279.44"/><use href="#cr" x="1344.52" y="280.32"/><use href="#cr" x="1349.14" y="293.21"/><use href="#cr" x="1353.76" y="299.47"/><use href="#cr" x="1358.38" y="303.85"/><use href="#cr" x="1363.01" y="308.61"/><use href="#cr" x="1367.63" y="310.74"/><use href="#cr" x="1372.25" y="313.24"/><use href="#cr" x="1376.87" y="315.12"/><use href="#cr" x="1381.49" y="310.74"/><use href="#cr" x="1386.12" y="314.12"/><use href="#cr" x="1390.74" y="313.24"/><use href="#cr" x="1395.36" y="318.25"/><use href="#cr" x="1399.98" y="305.11"/><use href="#cr" x="1404.6" y="303.85"/><use href="#cr" x="1409.23" y="295.72"/><use href="#cr" x="1413.85" y="299.1"/><use href="#cr" x="1418.47" y="311.12"/><use href="#cr" x="1423.09" y="301.35"/><use href="#cr" x="1427.71" y="296.97"/><use href="#cr" x="1432.34" y="302.85"/><use href="#cr" x="1436.96" y="288.83"/><use href="#cr" x="1441.58" y="284.07"/><use href="#cr" x="1446.2" y="282.32"/><use href="#cr" x="1450.82" y="266.92"/><use href="#cr" x="1455.45" y="270.05"/><use href="#cr" x="1460.07" y="273.18"/><use href="#cr" x="1464.69" y="257.53"/><use href="#cr" x="1469.31" y="261.91"/><use href="#cr" x="1473.93" y="260.03"/><use href="#cr" x="1478.56" y="257.28"/><use href="#cr" x="1483.18" y="253.15"/><use href="#cr" x="1487.8" y="256.9"/><use href="#cr" x="1492.42" y="251.02"/><use href="#cr" x="1497.04" y="263.79"/><use href="#cr" x="1501.67" y="247.76"/><use href="#cr" x="1506.29" y="245.01"/><use href="#cr" x="1510.91" y="217.58"/><use href="#cr" x="1515.53" y="229.85"/><use href="#cr" x="1520.15" y="263.54"/><use href="#cr" x="1524.78" y="258.78"/><use href="#cr" x="1529.4" y="262.79"/><use href="#cr" x="1534.02" y="269.05"/><use href="#cr" x="1538.64" y="276.31"/><use href="#cr" x="1543.26" y="280.69"/><use href="#cr" x="1547.89" y="284.45"/><use href="#cr" x="1552.51" y="294.84"/><use href="#cr" x="1557.13" y="300.1"/><use href="#cr" x="1561.75" y="303.85"/><use href="#cr" x="1566.37" y="305.11"/><use href="#cr" x="1571" y="303.85"/><use href="#cr" x="1575.62" y="306.11"/><use href="#cr" x="1580.24" y="308.61"/><use href="#cr" x="1584.86" y="314.87"/><use href="#cr" x="1589.48" y="322.63"/><use href="#cr" x="1594.11" y="327.64"/><use href="#cr" x="1598.73" y="335.16"/><use href="#cr" x="1603.35" y="330.77"/><use href="#cr" x="1607.97" y="324.89"/><use href="#cr" x="1612.59" y="310.74"/><use href="#cr" x="1617.22" y="326.39"/><use href="#cr" x="1621.84" y="312.37"/><use href="#cr" x="1626.46" y="300.1"/><use href="#cr" x="1631.08" y="320.76"/><use href="#cr" x="1635.7" y="311.12"/><use href="#cr" x="1640.33" y="292.59"/><use href="#cr" x="1644.95" y="284.45"/><use href="#cr" x="1649.57" y="283.82"/><use href="#cr" x="1654.19" y="287.33"/><use href="#cr" x="1658.81" y="287.58"/><use href="#cr" x="1663.44" y="286.33"/><use href="#cr" x="1668.06" y="288.2"/><use href="#cr" x="1672.68" y="270.68"/><use href="#cr" x="1677.3" y="270.68"/><use href="#cr" x="1681.92" y="271.3"/><use href="#cr" x="1686.55" y="256.03"/><use href="#cr" x="1691.17" y="254.77"/><use href="#cr" x="1695.79" y="257.53"/><use href="#cr" x="1700.41" y="251.89"/><use href="#cr" x="1705.03" y="259.41"/><use href="#cr" x="1709.66" y="248.51"/><use href="#cr" x="1714.28" y="247.51"/><use href="#cr" x="1718.9" y="259.03"/><use href="#cr" x="1723.52" y="262.54"/><use href="#cr" x="1728.14" y="268.17"/><use href="#cr" x="1732.77" y="265.04"/><use href="#cr" x="1737.39" y="262.54"/><use href="#cr" x="1742.01" y="260.66"/><use href="#cr" x="1746.63" y="270.05"/><use href="#cr" x="1751.25" y="284.07"/><use href="#cr" x="1755.88" y="281.32"/><use href="#cr" x="1760.5" y="283.2"/><use href="#cr" x="1765.12" y="291.96"/><use href="#cr" x="1769.74" y="301.1"/><use href="#cr" x="1774.36" y="298.85"/><use href="#cr" x="1778.99" y="299.47"/><use href="#cr" x="1783.61" y="309.11"/><use href="#cr" x="1788.23" y="314.5"/><use href="#cr" x="1792.85" y="318.25"/><use href="#cr" x="1797.47" y="320.76"/><use href="#cr" x="1802.1" y="317"/>
</g>
<path d="M101.25 354.4h12.5M1806.5 354.4h-12.5M101.25 282.48h12.5M1806.5 282.48h-12.5M101.25 210.56h12.5M1806.5 210.56h-12.5M101.25 138.64h12.5M1806.5 138.64h-12.5M101.25 66.72h12.5M1806.5 66.72h-12.5M101.25 318.44h7.1M1806.5 318.44h-6.3M101.25 246.52h7.1M1806.5 246.52h-6.3M101.25 174.6h7.1M1806.5 174.6h-6.3M101.25 102.68h7.1M1806.5 102.68h-6.3M207.92 49.2v6.6M207.92 390.6v-6.6M313.81 49.2v12.8M313.81 390.6v-12.8M420.53 49.2v6.6M420.53 390.6v-6.6M526.42 49.2v12.8M526.42 390.6v-12.8M633.15 49.2v6.6M633.15 390.6v-6.6M739.04 49.2v12.8M739.04 390.6v-12.8M845.76 49.2v6.6M845.76 390.6v-6.6M951.65 49.2v12.8M951.65 390.6v-12.8M1058.37 49.2v6.6M1058.37 390.6v-6.6M1164.26 49.2v12.8M1164.26 390.6v-12.8M1270.98 49.2v6.6M1270.98 390.6v-6.6M1376.87 49.2v12.8M1376.87 390.6v-12.8M1483.59 49.2v6.6M1483.59 390.6v-6.6M1589.48 49.2v12.8M1589.48 390.6v-12.8M1696.21 49.2v6.6M1696.21 390.6v-6.6M1802.1 49.2v12.8M1802.1 390.6v-12.8" stroke="#000" stroke-width="2.2" fill="none" stroke-linecap="round"/>
<rect x="101.25" y="49.2" width="1705.25" height="341.4" fill="none" stroke="#000" stroke-width="2.1" stroke-linejoin="round"/>
<text class="tk" x="88.6" y="360.65" text-anchor="end">2</text>
<text class="tk" x="88.6" y="288.73" text-anchor="end">4</text>
<text class="tk" x="88.6" y="216.81" text-anchor="end">6</text>
<text class="tk" x="88.6" y="144.89" text-anchor="end">8</text>
<text class="tk" x="88.6" y="72.97" text-anchor="end">10</text>
<text class="yl" transform="translate(45.8 326.4) rotate(-90) scale(1 1.18)">GPP<tspan dx="1.7"> (g C m</tspan><tspan class="mn" dy="-15.2">−</tspan><tspan class="sp" dx="1.9">2</tspan><tspan dy="15.2"> d</tspan><tspan class="mn" dx="1.9" dy="-15.2">−</tspan><tspan class="sp" dx="0.9">1</tspan><tspan dx="1" dy="15.2">)</tspan></text>
<line x1="313.81" y1="418.6" x2="313.81" y2="753.3" stroke="#8e8e8e" stroke-width="1.6" stroke-dasharray="4.2 4.3"/>
<line x1="526.42" y1="418.6" x2="526.42" y2="753.3" stroke="#8e8e8e" stroke-width="1.6" stroke-dasharray="4.2 4.3"/>
<line x1="739.04" y1="418.6" x2="739.04" y2="753.3" stroke="#8e8e8e" stroke-width="1.6" stroke-dasharray="4.2 4.3"/>
<line x1="951.65" y1="418.6" x2="951.65" y2="753.3" stroke="#8e8e8e" stroke-width="1.6" stroke-dasharray="4.2 4.3"/>
<line x1="1164.26" y1="418.6" x2="1164.26" y2="753.3" stroke="#8e8e8e" stroke-width="1.6" stroke-dasharray="4.2 4.3"/>
<line x1="1376.87" y1="418.6" x2="1376.87" y2="753.3" stroke="#8e8e8e" stroke-width="1.6" stroke-dasharray="4.2 4.3"/>
<line x1="1589.48" y1="418.6" x2="1589.48" y2="753.3" stroke="#8e8e8e" stroke-width="1.6" stroke-dasharray="4.2 4.3"/>
<line x1="1802.1" y1="418.6" x2="1802.1" y2="753.3" stroke="#8e8e8e" stroke-width="1.6" stroke-dasharray="4.2 4.3"/>
<g clip-path="url(#clip1)">
<polyline fill="none" stroke="#383838" stroke-width="1.05" stroke-linejoin="round" points="105.82,698.06 110.44,639.03 115.07,659.91 119.69,691.18 124.31,689.31 128.93,713.32 133.55,715.2 138.18,695.81 142.8,669.04 147.42,679.93 152.04,651.53 156.66,667.79 161.29,711.82 165.91,684.05 170.53,576.85 175.15,652.78 179.77,615.14 184.4,598.12 189.02,579.98 193.64,622.39 198.26,671.8 202.88,629.9 207.51,663.29 212.13,614.39 216.75,608.01 221.37,637.4 225.99,589.99 230.62,608.38 235.24,629.9 239.86,639.9 244.48,640.53 249.1,623.64 253.73,651.16 258.35,592.49 262.97,604.26 267.59,630.52 272.21,619.51 276.84,617.39 281.46,619.01 286.08,649.53 290.7,668.67 295.32,641.53 299.95,667.04 304.57,660.79 309.19,660.79 313.81,642.78 318.43,646.53 323.06,692.43 327.68,724.08 332.3,721.83 336.92,710.57 341.54,677.42 346.17,698.69 350.79,719.32 355.41,726.83 360.03,724.58 364.65,718.32 369.28,706.82 373.9,704.32 378.52,694.94 383.14,687.06 387.76,644.53 392.39,631.9 397.01,607.75 401.63,604.99 406.25,595.24 410.87,608.75 415.5,614.59 420.12,609.62 424.74,611.25 429.36,611.62 433.98,597.74 438.61,613.12 443.23,604.99 447.85,597.74 452.47,599.74 457.09,662.53 461.72,606.87 466.34,568.97 470.96,588.11 475.58,625.01 480.2,611.87 484.83,623.76 489.45,621.25 494.07,633.76 498.69,650.02 503.31,653.77 507.94,648.15 512.56,664.41 517.18,661.9 521.8,687.06 526.42,703.69 531.05,703.07 535.67,713.07 540.29,712.45 544.91,751.84 549.53,738.09 554.16,698.69 558.78,730.58 563.4,733.08 568.02,731.58 572.64,707.44 577.27,719.95 581.89,721.2 586.51,694.31 591.13,681.55 595.75,708.07 600.38,650.28 605,678.05 609.62,642.4 614.24,623.64 618.86,670.3 623.49,648.66 628.11,679.05 632.73,679.05 637.35,610.51 641.97,606.26 646.6,616.26 651.22,644.9 655.84,601.87 660.46,632.89 665.08,620.25 669.71,613.12 674.33,601.87 678.95,605.87 683.57,638.77 688.19,601.87 692.82,598.37 697.44,607.5 702.06,643.14 706.68,645.64 711.3,653.15 715.93,651.9 720.55,640.89 725.17,684.93 729.79,691.56 734.41,701.19 739.04,704.94 743.66,688.68 748.28,646.78 752.9,710.57 757.52,638.65 762.15,633.65 766.77,659.29 771.39,688.06 776.01,694.94 780.63,681.8 785.26,720.58 789.88,726.58 794.5,678.68 799.12,692.06 803.74,617.01 808.37,631.15 812.99,671.55 817.61,613.26 822.23,628.02 826.85,676.8 831.48,693.31 836.1,633.65 840.72,585.61 845.34,620 849.96,612.5 854.59,654.29 859.21,593.11 863.83,662.42 868.45,606 873.07,584.61 877.7,636.52 882.32,610.37 886.94,685.55 891.56,613.37 896.18,584.11 900.81,571.22 905.43,615 910.05,612.5 914.67,593.36 919.29,618.38 923.92,620.38 928.54,700.31 933.16,679.05 937.78,643.03 942.4,671.8 947.03,646.16 951.65,649.28 956.27,665.54 960.89,672.42 965.51,713.07 970.14,646.16 974.76,646.16 979.38,719.32 984,684.3 988.62,708.32 993.25,732.46 997.87,707.44 1002.49,696.81 1007.11,700.56 1011.73,661.16 1016.36,615.51 1020.98,620.52 1025.6,591.24 1030.22,576.85 1034.84,638.65 1039.47,616.25 1044.09,610.62 1048.71,630.64 1053.33,595.86 1057.95,673.05 1062.58,636.52 1067.2,619.38 1071.82,604.37 1076.44,589.99 1081.06,585.86 1085.69,597.12 1090.31,602.24 1094.93,626.26 1099.55,592.86 1104.17,576.23 1108.8,618.75 1113.42,592.11 1118.04,574.1 1122.66,586.61 1127.28,608.12 1131.91,628.76 1136.53,620 1141.15,618.75 1145.77,633.76 1150.39,648.15 1155.02,658.53 1159.64,687.06 1164.26,659.29 1168.88,656.54 1173.5,674.05 1178.13,695.81 1182.75,739.59 1187.37,711.2 1191.99,723.33 1196.61,688.06 1201.24,685.55 1205.86,674.3 1210.48,703.69 1215.1,694.56 1219.72,732.83 1224.35,715.32 1228.97,655.54 1233.59,646.16 1238.21,671.8 1242.83,594.99 1247.46,657.04 1252.08,655.29 1256.7,652.78 1261.32,619.13 1265.94,539.08 1270.57,654.29 1275.19,632.02 1279.81,652.03 1284.43,643.65 1289.05,613.75 1293.68,651.53 1298.3,591.24 1302.92,605.62 1307.54,598.74 1312.16,598.37 1316.79,598.74 1321.41,617.13 1326.03,644.39 1330.65,641.87 1335.27,612.12 1339.9,618.38 1344.52,685.55 1349.14,646.9 1353.76,641.64 1358.38,650.9 1363.01,660.03 1367.63,635.01 1372.25,647.9 1376.87,725.33 1381.49,663.04 1386.12,676.8 1390.74,668.67 1395.36,719.58 1399.98,633.65 1404.6,678.68 1409.23,684.93 1413.85,721.83 1418.47,728.71 1423.09,637.4 1427.71,688.68 1432.34,691.81 1436.96,657.41 1441.58,665.54 1446.2,652.41 1450.82,589.99 1455.45,604.62 1460.07,666.17 1464.69,654.29 1469.31,653.66 1473.93,668.67 1478.56,679.3 1483.18,699.94 1487.8,706.82 1492.42,651.53 1497.04,621.77 1501.67,632.77 1506.29,662.04 1510.91,629.9 1515.53,615 1520.15,626.26 1524.78,638.14 1529.4,625.63 1534.02,602.49 1538.64,594.99 1543.26,601.62 1547.89,606.25 1552.51,604.62 1557.13,629.63 1561.75,695.81 1566.37,663.04 1571,634.02 1575.62,676.17 1580.24,673.05 1584.86,691.18 1589.48,728.71 1594.11,691.81 1598.73,685.55 1603.35,678.68 1607.97,694.31 1612.59,717.45 1617.22,712.07 1621.84,697.44 1626.46,671.55 1631.08,720.58 1635.7,676.17 1640.33,638.28 1644.95,701.81 1649.57,704.07 1654.19,700.81 1658.81,657.41 1663.44,644.28 1668.06,663.29 1672.68,656.54 1677.3,630.77 1681.92,636.15 1686.55,659.91 1691.17,649.28 1695.79,672.42 1700.41,613.12 1705.03,608.75 1709.66,648.66 1714.28,620 1718.9,631.26 1723.52,608.12 1728.14,611.87 1732.77,609.37 1737.39,602.87 1742.01,606.87 1746.63,628.13 1751.25,582.86 1755.88,641.89 1760.5,588.73 1765.12,618.13 1769.74,623.76 1774.36,622.88 1778.99,601.24 1783.61,609.12 1788.23,628.13 1792.85,704.94 1797.47,650.02 1802.1,624.63"/>
<use href="#sq" x="105.82" y="698.06"/><use href="#sq" x="110.44" y="639.03"/><use href="#sq" x="115.07" y="659.91"/><use href="#sq" x="119.69" y="691.18"/><use href="#sq" x="124.31" y="689.31"/><use href="#sq" x="128.93" y="713.32"/><use href="#sq" x="133.55" y="715.2"/><use href="#sq" x="138.18" y="695.81"/><use href="#sq" x="142.8" y="669.04"/><use href="#sq" x="147.42" y="679.93"/><use href="#sq" x="152.04" y="651.53"/><use href="#sq" x="156.66" y="667.79"/><use href="#sq" x="161.29" y="711.82"/><use href="#sq" x="165.91" y="684.05"/><use href="#sq" x="170.53" y="576.85"/><use href="#sq" x="175.15" y="652.78"/><use href="#sq" x="179.77" y="615.14"/><use href="#sq" x="184.4" y="598.12"/><use href="#sq" x="189.02" y="579.98"/><use href="#sq" x="193.64" y="622.39"/><use href="#sq" x="198.26" y="671.8"/><use href="#sq" x="202.88" y="629.9"/><use href="#sq" x="207.51" y="663.29"/><use href="#sq" x="212.13" y="614.39"/><use href="#sq" x="216.75" y="608.01"/><use href="#sq" x="221.37" y="637.4"/><use href="#sq" x="225.99" y="589.99"/><use href="#sq" x="230.62" y="608.38"/><use href="#sq" x="235.24" y="629.9"/><use href="#sq" x="239.86" y="639.9"/><use href="#sq" x="244.48" y="640.53"/><use href="#sq" x="249.1" y="623.64"/><use href="#sq" x="253.73" y="651.16"/><use href="#sq" x="258.35" y="592.49"/><use href="#sq" x="262.97" y="604.26"/><use href="#sq" x="267.59" y="630.52"/><use href="#sq" x="272.21" y="619.51"/><use href="#sq" x="276.84" y="617.39"/><use href="#sq" x="281.46" y="619.01"/><use href="#sq" x="286.08" y="649.53"/><use href="#sq" x="290.7" y="668.67"/><use href="#sq" x="295.32" y="641.53"/><use href="#sq" x="299.95" y="667.04"/><use href="#sq" x="304.57" y="660.79"/><use href="#sq" x="309.19" y="660.79"/><use href="#sq" x="313.81" y="642.78"/><use href="#sq" x="318.43" y="646.53"/><use href="#sq" x="323.06" y="692.43"/><use href="#sq" x="327.68" y="724.08"/><use href="#sq" x="332.3" y="721.83"/><use href="#sq" x="336.92" y="710.57"/><use href="#sq" x="341.54" y="677.42"/><use href="#sq" x="346.17" y="698.69"/><use href="#sq" x="350.79" y="719.32"/><use href="#sq" x="355.41" y="726.83"/><use href="#sq" x="360.03" y="724.58"/><use href="#sq" x="364.65" y="718.32"/><use href="#sq" x="369.28" y="706.82"/><use href="#sq" x="373.9" y="704.32"/><use href="#sq" x="378.52" y="694.94"/><use href="#sq" x="383.14" y="687.06"/><use href="#sq" x="387.76" y="644.53"/><use href="#sq" x="392.39" y="631.9"/><use href="#sq" x="397.01" y="607.75"/><use href="#sq" x="401.63" y="604.99"/><use href="#sq" x="406.25" y="595.24"/><use href="#sq" x="410.87" y="608.75"/><use href="#sq" x="415.5" y="614.59"/><use href="#sq" x="420.12" y="609.62"/><use href="#sq" x="424.74" y="611.25"/><use href="#sq" x="429.36" y="611.62"/><use href="#sq" x="433.98" y="597.74"/><use href="#sq" x="438.61" y="613.12"/><use href="#sq" x="443.23" y="604.99"/><use href="#sq" x="447.85" y="597.74"/><use href="#sq" x="452.47" y="599.74"/><use href="#sq" x="457.09" y="662.53"/><use href="#sq" x="461.72" y="606.87"/><use href="#sq" x="466.34" y="568.97"/><use href="#sq" x="470.96" y="588.11"/><use href="#sq" x="475.58" y="625.01"/><use href="#sq" x="480.2" y="611.87"/><use href="#sq" x="484.83" y="623.76"/><use href="#sq" x="489.45" y="621.25"/><use href="#sq" x="494.07" y="633.76"/><use href="#sq" x="498.69" y="650.02"/><use href="#sq" x="503.31" y="653.77"/><use href="#sq" x="507.94" y="648.15"/><use href="#sq" x="512.56" y="664.41"/><use href="#sq" x="517.18" y="661.9"/><use href="#sq" x="521.8" y="687.06"/><use href="#sq" x="526.42" y="703.69"/><use href="#sq" x="531.05" y="703.07"/><use href="#sq" x="535.67" y="713.07"/><use href="#sq" x="540.29" y="712.45"/><use href="#sq" x="544.91" y="751.84"/><use href="#sq" x="549.53" y="738.09"/><use href="#sq" x="554.16" y="698.69"/><use href="#sq" x="558.78" y="730.58"/><use href="#sq" x="563.4" y="733.08"/><use href="#sq" x="568.02" y="731.58"/><use href="#sq" x="572.64" y="707.44"/><use href="#sq" x="577.27" y="719.95"/><use href="#sq" x="581.89" y="721.2"/><use href="#sq" x="586.51" y="694.31"/><use href="#sq" x="591.13" y="681.55"/><use href="#sq" x="595.75" y="708.07"/><use href="#sq" x="600.38" y="650.28"/><use href="#sq" x="605" y="678.05"/><use href="#sq" x="609.62" y="642.4"/><use href="#sq" x="614.24" y="623.64"/><use href="#sq" x="618.86" y="670.3"/><use href="#sq" x="623.49" y="648.66"/><use href="#sq" x="628.11" y="679.05"/><use href="#sq" x="632.73" y="679.05"/><use href="#sq" x="637.35" y="610.51"/><use href="#sq" x="641.97" y="606.26"/><use href="#sq" x="646.6" y="616.26"/><use href="#sq" x="651.22" y="644.9"/><use href="#sq" x="655.84" y="601.87"/><use href="#sq" x="660.46" y="632.89"/><use href="#sq" x="665.08" y="620.25"/><use href="#sq" x="669.71" y="613.12"/><use href="#sq" x="674.33" y="601.87"/><use href="#sq" x="678.95" y="605.87"/><use href="#sq" x="683.57" y="638.77"/><use href="#sq" x="688.19" y="601.87"/><use href="#sq" x="692.82" y="598.37"/><use href="#sq" x="697.44" y="607.5"/><use href="#sq" x="702.06" y="643.14"/><use href="#sq" x="706.68" y="645.64"/><use href="#sq" x="711.3" y="653.15"/><use href="#sq" x="715.93" y="651.9"/><use href="#sq" x="720.55" y="640.89"/><use href="#sq" x="725.17" y="684.93"/><use href="#sq" x="729.79" y="691.56"/><use href="#sq" x="734.41" y="701.19"/><use href="#sq" x="739.04" y="704.94"/><use href="#sq" x="743.66" y="688.68"/><use href="#sq" x="748.28" y="646.78"/><use href="#sq" x="752.9" y="710.57"/><use href="#sq" x="757.52" y="638.65"/><use href="#sq" x="762.15" y="633.65"/><use href="#sq" x="766.77" y="659.29"/><use href="#sq" x="771.39" y="688.06"/><use href="#sq" x="776.01" y="694.94"/><use href="#sq" x="780.63" y="681.8"/><use href="#sq" x="785.26" y="720.58"/><use href="#sq" x="789.88" y="726.58"/><use href="#sq" x="794.5" y="678.68"/><use href="#sq" x="799.12" y="692.06"/><use href="#sq" x="803.74" y="617.01"/><use href="#sq" x="808.37" y="631.15"/><use href="#sq" x="812.99" y="671.55"/><use href="#sq" x="817.61" y="613.26"/><use href="#sq" x="822.23" y="628.02"/><use href="#sq" x="826.85" y="676.8"/><use href="#sq" x="831.48" y="693.31"/><use href="#sq" x="836.1" y="633.65"/><use href="#sq" x="840.72" y="585.61"/><use href="#sq" x="845.34" y="620"/><use href="#sq" x="849.96" y="612.5"/><use href="#sq" x="854.59" y="654.29"/><use href="#sq" x="859.21" y="593.11"/><use href="#sq" x="863.83" y="662.42"/><use href="#sq" x="868.45" y="606"/><use href="#sq" x="873.07" y="584.61"/><use href="#sq" x="877.7" y="636.52"/><use href="#sq" x="882.32" y="610.37"/><use href="#sq" x="886.94" y="685.55"/><use href="#sq" x="891.56" y="613.37"/><use href="#sq" x="896.18" y="584.11"/><use href="#sq" x="900.81" y="571.22"/><use href="#sq" x="905.43" y="615"/><use href="#sq" x="910.05" y="612.5"/><use href="#sq" x="914.67" y="593.36"/><use href="#sq" x="919.29" y="618.38"/><use href="#sq" x="923.92" y="620.38"/><use href="#sq" x="928.54" y="700.31"/><use href="#sq" x="933.16" y="679.05"/><use href="#sq" x="937.78" y="643.03"/><use href="#sq" x="942.4" y="671.8"/><use href="#sq" x="947.03" y="646.16"/><use href="#sq" x="951.65" y="649.28"/><use href="#sq" x="956.27" y="665.54"/><use href="#sq" x="960.89" y="672.42"/><use href="#sq" x="965.51" y="713.07"/><use href="#sq" x="970.14" y="646.16"/><use href="#sq" x="974.76" y="646.16"/><use href="#sq" x="979.38" y="719.32"/><use href="#sq" x="984" y="684.3"/><use href="#sq" x="988.62" y="708.32"/><use href="#sq" x="993.25" y="732.46"/><use href="#sq" x="997.87" y="707.44"/><use href="#sq" x="1002.49" y="696.81"/><use href="#sq" x="1007.11" y="700.56"/><use href="#sq" x="1011.73" y="661.16"/><use href="#sq" x="1016.36" y="615.51"/><use href="#sq" x="1020.98" y="620.52"/><use href="#sq" x="1025.6" y="591.24"/><use href="#sq" x="1030.22" y="576.85"/><use href="#sq" x="1034.84" y="638.65"/><use href="#sq" x="1039.47" y="616.25"/><use href="#sq" x="1044.09" y="610.62"/><use href="#sq" x="1048.71" y="630.64"/><use href="#sq" x="1053.33" y="595.86"/><use href="#sq" x="1057.95" y="673.05"/><use href="#sq" x="1062.58" y="636.52"/><use href="#sq" x="1067.2" y="619.38"/><use href="#sq" x="1071.82" y="604.37"/><use href="#sq" x="1076.44" y="589.99"/><use href="#sq" x="1081.06" y="585.86"/><use href="#sq" x="1085.69" y="597.12"/><use href="#sq" x="1090.31" y="602.24"/><use href="#sq" x="1094.93" y="626.26"/><use href="#sq" x="1099.55" y="592.86"/><use href="#sq" x="1104.17" y="576.23"/><use href="#sq" x="1108.8" y="618.75"/><use href="#sq" x="1113.42" y="592.11"/><use href="#sq" x="1118.04" y="574.1"/><use href="#sq" x="1122.66" y="586.61"/><use href="#sq" x="1127.28" y="608.12"/><use href="#sq" x="1131.91" y="628.76"/><use href="#sq" x="1136.53" y="620"/><use href="#sq" x="1141.15" y="618.75"/><use href="#sq" x="1145.77" y="633.76"/><use href="#sq" x="1150.39" y="648.15"/><use href="#sq" x="1155.02" y="658.53"/><use href="#sq" x="1159.64" y="687.06"/><use href="#sq" x="1164.26" y="659.29"/><use href="#sq" x="1168.88" y="656.54"/><use href="#sq" x="1173.5" y="674.05"/><use href="#sq" x="1178.13" y="695.81"/><use href="#sq" x="1182.75" y="739.59"/><use href="#sq" x="1187.37" y="711.2"/><use href="#sq" x="1191.99" y="723.33"/><use href="#sq" x="1196.61" y="688.06"/><use href="#sq" x="1201.24" y="685.55"/><use href="#sq" x="1205.86" y="674.3"/><use href="#sq" x="1210.48" y="703.69"/><use href="#sq" x="1215.1" y="694.56"/><use href="#sq" x="1219.72" y="732.83"/><use href="#sq" x="1224.35" y="715.32"/><use href="#sq" x="1228.97" y="655.54"/><use href="#sq" x="1233.59" y="646.16"/><use href="#sq" x="1238.21" y="671.8"/><use href="#sq" x="1242.83" y="594.99"/><use href="#sq" x="1247.46" y="657.04"/><use href="#sq" x="1252.08" y="655.29"/><use href="#sq" x="1256.7" y="652.78"/><use href="#sq" x="1261.32" y="619.13"/><use href="#sq" x="1265.94" y="539.08"/><use href="#sq" x="1270.57" y="654.29"/><use href="#sq" x="1275.19" y="632.02"/><use href="#sq" x="1279.81" y="652.03"/><use href="#sq" x="1284.43" y="643.65"/><use href="#sq" x="1289.05" y="613.75"/><use href="#sq" x="1293.68" y="651.53"/><use href="#sq" x="1298.3" y="591.24"/><use href="#sq" x="1302.92" y="605.62"/><use href="#sq" x="1307.54" y="598.74"/><use href="#sq" x="1312.16" y="598.37"/><use href="#sq" x="1316.79" y="598.74"/><use href="#sq" x="1321.41" y="617.13"/><use href="#sq" x="1326.03" y="644.39"/><use href="#sq" x="1330.65" y="641.87"/><use href="#sq" x="1335.27" y="612.12"/><use href="#sq" x="1339.9" y="618.38"/><use href="#sq" x="1344.52" y="685.55"/><use href="#sq" x="1349.14" y="646.9"/><use href="#sq" x="1353.76" y="641.64"/><use href="#sq" x="1358.38" y="650.9"/><use href="#sq" x="1363.01" y="660.03"/><use href="#sq" x="1367.63" y="635.01"/><use href="#sq" x="1372.25" y="647.9"/><use href="#sq" x="1376.87" y="725.33"/><use href="#sq" x="1381.49" y="663.04"/><use href="#sq" x="1386.12" y="676.8"/><use href="#sq" x="1390.74" y="668.67"/><use href="#sq" x="1395.36" y="719.58"/><use href="#sq" x="1399.98" y="633.65"/><use href="#sq" x="1404.6" y="678.68"/><use href="#sq" x="1409.23" y="684.93"/><use href="#sq" x="1413.85" y="721.83"/><use href="#sq" x="1418.47" y="728.71"/><use href="#sq" x="1423.09" y="637.4"/><use href="#sq" x="1427.71" y="688.68"/><use href="#sq" x="1432.34" y="691.81"/><use href="#sq" x="1436.96" y="657.41"/><use href="#sq" x="1441.58" y="665.54"/><use href="#sq" x="1446.2" y="652.41"/><use href="#sq" x="1450.82" y="589.99"/><use href="#sq" x="1455.45" y="604.62"/><use href="#sq" x="1460.07" y="666.17"/><use href="#sq" x="1464.69" y="654.29"/><use href="#sq" x="1469.31" y="653.66"/><use href="#sq" x="1473.93" y="668.67"/><use href="#sq" x="1478.56" y="679.3"/><use href="#sq" x="1483.18" y="699.94"/><use href="#sq" x="1487.8" y="706.82"/><use href="#sq" x="1492.42" y="651.53"/><use href="#sq" x="1497.04" y="621.77"/><use href="#sq" x="1501.67" y="632.77"/><use href="#sq" x="1506.29" y="662.04"/><use href="#sq" x="1510.91" y="629.9"/><use href="#sq" x="1515.53" y="615"/><use href="#sq" x="1520.15" y="626.26"/><use href="#sq" x="1524.78" y="638.14"/><use href="#sq" x="1529.4" y="625.63"/><use href="#sq" x="1534.02" y="602.49"/><use href="#sq" x="1538.64" y="594.99"/><use href="#sq" x="1543.26" y="601.62"/><use href="#sq" x="1547.89" y="606.25"/><use href="#sq" x="1552.51" y="604.62"/><use href="#sq" x="1557.13" y="629.63"/><use href="#sq" x="1561.75" y="695.81"/><use href="#sq" x="1566.37" y="663.04"/><use href="#sq" x="1571" y="634.02"/><use href="#sq" x="1575.62" y="676.17"/><use href="#sq" x="1580.24" y="673.05"/><use href="#sq" x="1584.86" y="691.18"/><use href="#sq" x="1589.48" y="728.71"/><use href="#sq" x="1594.11" y="691.81"/><use href="#sq" x="1598.73" y="685.55"/><use href="#sq" x="1603.35" y="678.68"/><use href="#sq" x="1607.97" y="694.31"/><use href="#sq" x="1612.59" y="717.45"/><use href="#sq" x="1617.22" y="712.07"/><use href="#sq" x="1621.84" y="697.44"/><use href="#sq" x="1626.46" y="671.55"/><use href="#sq" x="1631.08" y="720.58"/><use href="#sq" x="1635.7" y="676.17"/><use href="#sq" x="1640.33" y="638.28"/><use href="#sq" x="1644.95" y="701.81"/><use href="#sq" x="1649.57" y="704.07"/><use href="#sq" x="1654.19" y="700.81"/><use href="#sq" x="1658.81" y="657.41"/><use href="#sq" x="1663.44" y="644.28"/><use href="#sq" x="1668.06" y="663.29"/><use href="#sq" x="1672.68" y="656.54"/><use href="#sq" x="1677.3" y="630.77"/><use href="#sq" x="1681.92" y="636.15"/><use href="#sq" x="1686.55" y="659.91"/><use href="#sq" x="1691.17" y="649.28"/><use href="#sq" x="1695.79" y="672.42"/><use href="#sq" x="1700.41" y="613.12"/><use href="#sq" x="1705.03" y="608.75"/><use href="#sq" x="1709.66" y="648.66"/><use href="#sq" x="1714.28" y="620"/><use href="#sq" x="1718.9" y="631.26"/><use href="#sq" x="1723.52" y="608.12"/><use href="#sq" x="1728.14" y="611.87"/><use href="#sq" x="1732.77" y="609.37"/><use href="#sq" x="1737.39" y="602.87"/><use href="#sq" x="1742.01" y="606.87"/><use href="#sq" x="1746.63" y="628.13"/><use href="#sq" x="1751.25" y="582.86"/><use href="#sq" x="1755.88" y="641.89"/><use href="#sq" x="1760.5" y="588.73"/><use href="#sq" x="1765.12" y="618.13"/><use href="#sq" x="1769.74" y="623.76"/><use href="#sq" x="1774.36" y="622.88"/><use href="#sq" x="1778.99" y="601.24"/><use href="#sq" x="1783.61" y="609.12"/><use href="#sq" x="1788.23" y="628.13"/><use href="#sq" x="1792.85" y="704.94"/><use href="#sq" x="1797.47" y="650.02"/><use href="#sq" x="1802.1" y="624.63"/>
</g>
<g clip-path="url(#clip1)">
<polyline fill="none" stroke="#2aff2a" stroke-width="1.05" stroke-linejoin="round" points="105.82,696.65 110.44,611.14 115.07,613.64 119.69,659.97 124.31,639.06 128.93,639.06 133.55,629.54 138.18,615.9 142.8,666.23 147.42,666.23 152.04,671.24 156.66,665.6 161.29,670.61 165.91,622.03 170.53,507.15 175.15,610.82 179.77,578.27 184.4,599.55 189.02,584.9 193.64,595.8 198.26,588.91 202.88,555.48 207.51,571.63 212.13,543.84 216.75,597.43 221.37,590.16 225.99,604.56 230.62,603.31 235.24,617.96 239.86,600.81 244.48,573.64 249.1,542.59 253.73,592.67 258.35,591.67 262.97,566.12 267.59,651.58 272.21,578.27 276.84,605.81 281.46,590.41 286.08,622.72 290.7,639.94 295.32,587.03 299.95,623.72 304.57,612.07 309.19,628.35 313.81,668.11 318.43,627.16 323.06,657.84 327.68,709.42 332.3,665.6 336.92,709.17 341.54,579.52 346.17,590.54 350.79,626.1 355.41,566.75 360.03,626.47 364.65,654.58 369.28,597.43 373.9,651.83 378.52,606.19 383.14,588.29 387.76,599.93 392.39,574.14 397.01,617.46 401.63,588.91 406.25,578.27 410.87,584.9 415.5,676.62 420.12,666.6 424.74,701.66 429.36,673.11 433.98,635.8 438.61,627.04 443.23,541.08 447.85,529.81 452.47,612.45 457.09,603.31 461.72,619.96 466.34,572.63 470.96,578.89 475.58,569.5 480.2,588.66 484.83,586.41 489.45,593.29 494.07,614.58 498.69,638.68 503.31,579.52 507.94,653.33 512.56,593.67 517.18,613.7 521.8,659.97 526.42,728.2 531.05,653.08 535.67,671.24 540.29,639.06 544.91,668.11 549.53,671.61 554.16,706.92 558.78,689.39 563.4,702.16 568.02,642.44 572.64,676.62 577.27,664.1 581.89,639.94 586.51,593.92 591.13,588.29 595.75,602.68 600.38,572.63 605,573.26 609.62,559.49 614.24,561.74 618.86,629.98 623.49,608.32 628.11,600.18 632.73,553.23 637.35,548.6 641.97,498.51 646.6,560.74 651.22,568.25 655.84,567.63 660.46,617.71 665.08,627.35 669.71,579.9 674.33,582.9 678.95,569.13 683.57,592.67 688.19,548.85 692.82,583.53 697.44,601.43 702.06,614.95 706.68,642.81 711.3,628.35 715.93,593.67 720.55,620.59 725.17,692.52 729.79,667.86 734.41,664.6 739.04,726.33 743.66,697.53 748.28,639.06 752.9,671.86 757.52,613.02 762.15,624.28 766.77,649.33 771.39,679.12 776.01,693.4 780.63,672.11 785.26,656.59 789.88,656.59 794.5,626.54 799.12,593.29 803.74,601.18 808.37,624.22 812.99,607.44 817.61,567.38 822.23,608.94 826.85,649.95 831.48,610.2 836.1,585.78 840.72,540.33 845.34,540.71 849.96,586.41 854.59,577.02 859.21,553.85 863.83,592.67 868.45,567.63 873.07,524.68 877.7,556.73 882.32,547.97 886.94,646.82 891.56,572.38 896.18,558.49 900.81,607.44 905.43,621.46 910.05,633.98 914.67,567.63 919.29,576.39 923.92,631.11 928.54,689.64 933.16,668.36 937.78,660.84 942.4,659.09 947.03,594.55 951.65,658.09 956.27,678.37 960.89,636.18 965.51,692.52 970.14,612.14 974.76,578.64 979.38,638.68 984,637.43 988.62,627.04 993.25,668.36 997.87,600.18 1002.49,593.67 1007.11,645.32 1011.73,633.68 1016.36,572.01 1020.98,602.93 1025.6,558.61 1030.22,596.17 1034.84,602.06 1039.47,572.01 1044.09,553.85 1048.71,565.75 1053.33,579.9 1057.95,572.89 1062.58,578.27 1067.2,609.95 1071.82,664.98 1076.44,588.66 1081.06,594.17 1085.69,551.1 1090.31,582.4 1094.93,614.2 1099.55,607.07 1104.17,586.16 1108.8,626.1 1113.42,618.33 1118.04,618.96 1122.66,604.19 1127.28,630.85 1131.91,638.06 1136.53,590.79 1141.15,595.8 1145.77,640.56 1150.39,614.95 1155.02,637.81 1159.64,642.44 1164.26,701.03 1168.88,612.01 1173.5,678.12 1178.13,688.14 1182.75,751.37 1187.37,720.94 1191.99,683.38 1196.61,588.29 1201.24,585.41 1205.86,571.38 1210.48,649.08 1215.1,618.65 1219.72,658.09 1224.35,606.44 1228.97,597.43 1233.59,609.57 1238.21,610.2 1242.83,604.94 1247.46,680.38 1252.08,640.31 1256.7,651.83 1261.32,646.57 1265.94,642.06 1270.57,609.57 1275.19,614.58 1279.81,597.43 1284.43,623.72 1289.05,585.41 1293.68,580.15 1298.3,568 1302.92,610.82 1307.54,573.01 1312.16,560.11 1316.79,595.8 1321.41,593.29 1326.03,596.42 1330.65,593.29 1335.27,620.46 1339.9,631.11 1344.52,643.69 1349.14,547.97 1353.76,601.68 1358.38,608.69 1363.01,633.11 1367.63,609.95 1372.25,625.22 1376.87,724.7 1381.49,616.46 1386.12,633.98 1390.74,628.98 1395.36,642.81 1399.98,575.76 1404.6,594.55 1409.23,604.19 1413.85,643.07 1418.47,619.9 1423.09,568.63 1427.71,640.56 1432.34,674.12 1436.96,631.17 1441.58,597.43 1446.2,644.32 1450.82,617.46 1455.45,669.11 1460.07,674.37 1464.69,672.49 1469.31,593.29 1473.93,579.52 1478.56,565.37 1483.18,582.65 1487.8,612.45 1492.42,584.53 1497.04,558.86 1501.67,583.65 1506.29,567.63 1510.91,554.48 1515.53,555.11 1520.15,541.58 1524.78,581.4 1529.4,579.15 1534.02,603.31 1538.64,637.81 1543.26,660.59 1547.89,649.7 1552.51,605.81 1557.13,603.69 1561.75,678.12 1566.37,666.23 1571,617.77 1575.62,637.18 1580.24,679.12 1584.86,672.49 1589.48,751.37 1594.11,717.56 1598.73,715.43 1603.35,709.42 1607.97,685.01 1612.59,686.64 1617.22,710.93 1621.84,633.68 1626.46,589.54 1631.08,643.69 1635.7,599.93 1640.33,564.12 1644.95,618.58 1649.57,610.2 1654.19,652.46 1658.81,634.3 1663.44,620.59 1668.06,623.72 1672.68,592.42 1677.3,629.98 1681.92,638.31 1686.55,651.83 1691.17,622.97 1695.79,600.18 1700.41,642.81 1705.03,633.68 1709.66,640.56 1714.28,646.57 1718.9,634.3 1723.52,644.07 1728.14,634.05 1732.77,585.53 1737.39,564.75 1742.01,557.99 1746.63,636.18 1751.25,640.31 1755.88,662.85 1760.5,626.47 1765.12,590.54 1769.74,575.76 1774.36,580.77 1778.99,609.19 1783.61,622.72 1788.23,615.2 1792.85,697.15 1797.47,647.45 1802.1,691.89"/>
<use href="#cg" x="105.82" y="696.65"/><use href="#cg" x="110.44" y="611.14"/><use href="#cg" x="115.07" y="613.64"/><use href="#cg" x="119.69" y="659.97"/><use href="#cg" x="124.31" y="639.06"/><use href="#cg" x="128.93" y="639.06"/><use href="#cg" x="133.55" y="629.54"/><use href="#cg" x="138.18" y="615.9"/><use href="#cg" x="142.8" y="666.23"/><use href="#cg" x="147.42" y="666.23"/><use href="#cg" x="152.04" y="671.24"/><use href="#cg" x="156.66" y="665.6"/><use href="#cg" x="161.29" y="670.61"/><use href="#cg" x="165.91" y="622.03"/><use href="#cg" x="170.53" y="507.15"/><use href="#cg" x="175.15" y="610.82"/><use href="#cg" x="179.77" y="578.27"/><use href="#cg" x="184.4" y="599.55"/><use href="#cg" x="189.02" y="584.9"/><use href="#cg" x="193.64" y="595.8"/><use href="#cg" x="198.26" y="588.91"/><use href="#cg" x="202.88" y="555.48"/><use href="#cg" x="207.51" y="571.63"/><use href="#cg" x="212.13" y="543.84"/><use href="#cg" x="216.75" y="597.43"/><use href="#cg" x="221.37" y="590.16"/><use href="#cg" x="225.99" y="604.56"/><use href="#cg" x="230.62" y="603.31"/><use href="#cg" x="235.24" y="617.96"/><use href="#cg" x="239.86" y="600.81"/><use href="#cg" x="244.48" y="573.64"/><use href="#cg" x="249.1" y="542.59"/><use href="#cg" x="253.73" y="592.67"/><use href="#cg" x="258.35" y="591.67"/><use href="#cg" x="262.97" y="566.12"/><use href="#cg" x="267.59" y="651.58"/><use href="#cg" x="272.21" y="578.27"/><use href="#cg" x="276.84" y="605.81"/><use href="#cg" x="281.46" y="590.41"/><use href="#cg" x="286.08" y="622.72"/><use href="#cg" x="290.7" y="639.94"/><use href="#cg" x="295.32" y="587.03"/><use href="#cg" x="299.95" y="623.72"/><use href="#cg" x="304.57" y="612.07"/><use href="#cg" x="309.19" y="628.35"/><use href="#cg" x="313.81" y="668.11"/><use href="#cg" x="318.43" y="627.16"/><use href="#cg" x="323.06" y="657.84"/><use href="#cg" x="327.68" y="709.42"/><use href="#cg" x="332.3" y="665.6"/><use href="#cg" x="336.92" y="709.17"/><use href="#cg" x="341.54" y="579.52"/><use href="#cg" x="346.17" y="590.54"/><use href="#cg" x="350.79" y="626.1"/><use href="#cg" x="355.41" y="566.75"/><use href="#cg" x="360.03" y="626.47"/><use href="#cg" x="364.65" y="654.58"/><use href="#cg" x="369.28" y="597.43"/><use href="#cg" x="373.9" y="651.83"/><use href="#cg" x="378.52" y="606.19"/><use href="#cg" x="383.14" y="588.29"/><use href="#cg" x="387.76" y="599.93"/><use href="#cg" x="392.39" y="574.14"/><use href="#cg" x="397.01" y="617.46"/><use href="#cg" x="401.63" y="588.91"/><use href="#cg" x="406.25" y="578.27"/><use href="#cg" x="410.87" y="584.9"/><use href="#cg" x="415.5" y="676.62"/><use href="#cg" x="420.12" y="666.6"/><use href="#cg" x="424.74" y="701.66"/><use href="#cg" x="429.36" y="673.11"/><use href="#cg" x="433.98" y="635.8"/><use href="#cg" x="438.61" y="627.04"/><use href="#cg" x="443.23" y="541.08"/><use href="#cg" x="447.85" y="529.81"/><use href="#cg" x="452.47" y="612.45"/><use href="#cg" x="457.09" y="603.31"/><use href="#cg" x="461.72" y="619.96"/><use href="#cg" x="466.34" y="572.63"/><use href="#cg" x="470.96" y="578.89"/><use href="#cg" x="475.58" y="569.5"/><use href="#cg" x="480.2" y="588.66"/><use href="#cg" x="484.83" y="586.41"/><use href="#cg" x="489.45" y="593.29"/><use href="#cg" x="494.07" y="614.58"/><use href="#cg" x="498.69" y="638.68"/><use href="#cg" x="503.31" y="579.52"/><use href="#cg" x="507.94" y="653.33"/><use href="#cg" x="512.56" y="593.67"/><use href="#cg" x="517.18" y="613.7"/><use href="#cg" x="521.8" y="659.97"/><use href="#cg" x="526.42" y="728.2"/><use href="#cg" x="531.05" y="653.08"/><use href="#cg" x="535.67" y="671.24"/><use href="#cg" x="540.29" y="639.06"/><use href="#cg" x="544.91" y="668.11"/><use href="#cg" x="549.53" y="671.61"/><use href="#cg" x="554.16" y="706.92"/><use href="#cg" x="558.78" y="689.39"/><use href="#cg" x="563.4" y="702.16"/><use href="#cg" x="568.02" y="642.44"/><use href="#cg" x="572.64" y="676.62"/><use href="#cg" x="577.27" y="664.1"/><use href="#cg" x="581.89" y="639.94"/><use href="#cg" x="586.51" y="593.92"/><use href="#cg" x="591.13" y="588.29"/><use href="#cg" x="595.75" y="602.68"/><use href="#cg" x="600.38" y="572.63"/><use href="#cg" x="605" y="573.26"/><use href="#cg" x="609.62" y="559.49"/><use href="#cg" x="614.24" y="561.74"/><use href="#cg" x="618.86" y="629.98"/><use href="#cg" x="623.49" y="608.32"/><use href="#cg" x="628.11" y="600.18"/><use href="#cg" x="632.73" y="553.23"/><use href="#cg" x="637.35" y="548.6"/><use href="#cg" x="641.97" y="498.51"/><use href="#cg" x="646.6" y="560.74"/><use href="#cg" x="651.22" y="568.25"/><use href="#cg" x="655.84" y="567.63"/><use href="#cg" x="660.46" y="617.71"/><use href="#cg" x="665.08" y="627.35"/><use href="#cg" x="669.71" y="579.9"/><use href="#cg" x="674.33" y="582.9"/><use href="#cg" x="678.95" y="569.13"/><use href="#cg" x="683.57" y="592.67"/><use href="#cg" x="688.19" y="548.85"/><use href="#cg" x="692.82" y="583.53"/><use href="#cg" x="697.44" y="601.43"/><use href="#cg" x="702.06" y="614.95"/><use href="#cg" x="706.68" y="642.81"/><use href="#cg" x="711.3" y="628.35"/><use href="#cg" x="715.93" y="593.67"/><use href="#cg" x="720.55" y="620.59"/><use href="#cg" x="725.17" y="692.52"/><use href="#cg" x="729.79" y="667.86"/><use href="#cg" x="734.41" y="664.6"/><use href="#cg" x="739.04" y="726.33"/><use href="#cg" x="743.66" y="697.53"/><use href="#cg" x="748.28" y="639.06"/><use href="#cg" x="752.9" y="671.86"/><use href="#cg" x="757.52" y="613.02"/><use href="#cg" x="762.15" y="624.28"/><use href="#cg" x="766.77" y="649.33"/><use href="#cg" x="771.39" y="679.12"/><use href="#cg" x="776.01" y="693.4"/><use href="#cg" x="780.63" y="672.11"/><use href="#cg" x="785.26" y="656.59"/><use href="#cg" x="789.88" y="656.59"/><use href="#cg" x="794.5" y="626.54"/><use href="#cg" x="799.12" y="593.29"/><use href="#cg" x="803.74" y="601.18"/><use href="#cg" x="808.37" y="624.22"/><use href="#cg" x="812.99" y="607.44"/><use href="#cg" x="817.61" y="567.38"/><use href="#cg" x="822.23" y="608.94"/><use href="#cg" x="826.85" y="649.95"/><use href="#cg" x="831.48" y="610.2"/><use href="#cg" x="836.1" y="585.78"/><use href="#cg" x="840.72" y="540.33"/><use href="#cg" x="845.34" y="540.71"/><use href="#cg" x="849.96" y="586.41"/><use href="#cg" x="854.59" y="577.02"/><use href="#cg" x="859.21" y="553.85"/><use href="#cg" x="863.83" y="592.67"/><use href="#cg" x="868.45" y="567.63"/><use href="#cg" x="873.07" y="524.68"/><use href="#cg" x="877.7" y="556.73"/><use href="#cg" x="882.32" y="547.97"/><use href="#cg" x="886.94" y="646.82"/><use href="#cg" x="891.56" y="572.38"/><use href="#cg" x="896.18" y="558.49"/><use href="#cg" x="900.81" y="607.44"/><use href="#cg" x="905.43" y="621.46"/><use href="#cg" x="910.05" y="633.98"/><use href="#cg" x="914.67" y="567.63"/><use href="#cg" x="919.29" y="576.39"/><use href="#cg" x="923.92" y="631.11"/><use href="#cg" x="928.54" y="689.64"/><use href="#cg" x="933.16" y="668.36"/><use href="#cg" x="937.78" y="660.84"/><use href="#cg" x="942.4" y="659.09"/><use href="#cg" x="947.03" y="594.55"/><use href="#cg" x="951.65" y="658.09"/><use href="#cg" x="956.27" y="678.37"/><use href="#cg" x="960.89" y="636.18"/><use href="#cg" x="965.51" y="692.52"/><use href="#cg" x="970.14" y="612.14"/><use href="#cg" x="974.76" y="578.64"/><use href="#cg" x="979.38" y="638.68"/><use href="#cg" x="984" y="637.43"/><use href="#cg" x="988.62" y="627.04"/><use href="#cg" x="993.25" y="668.36"/><use href="#cg" x="997.87" y="600.18"/><use href="#cg" x="1002.49" y="593.67"/><use href="#cg" x="1007.11" y="645.32"/><use href="#cg" x="1011.73" y="633.68"/><use href="#cg" x="1016.36" y="572.01"/><use href="#cg" x="1020.98" y="602.93"/><use href="#cg" x="1025.6" y="558.61"/><use href="#cg" x="1030.22" y="596.17"/><use href="#cg" x="1034.84" y="602.06"/><use href="#cg" x="1039.47" y="572.01"/><use href="#cg" x="1044.09" y="553.85"/><use href="#cg" x="1048.71" y="565.75"/><use href="#cg" x="1053.33" y="579.9"/><use href="#cg" x="1057.95" y="572.89"/><use href="#cg" x="1062.58" y="578.27"/><use href="#cg" x="1067.2" y="609.95"/><use href="#cg" x="1071.82" y="664.98"/><use href="#cg" x="1076.44" y="588.66"/><use href="#cg" x="1081.06" y="594.17"/><use href="#cg" x="1085.69" y="551.1"/><use href="#cg" x="1090.31" y="582.4"/><use href="#cg" x="1094.93" y="614.2"/><use href="#cg" x="1099.55" y="607.07"/><use href="#cg" x="1104.17" y="586.16"/><use href="#cg" x="1108.8" y="626.1"/><use href="#cg" x="1113.42" y="618.33"/><use href="#cg" x="1118.04" y="618.96"/><use href="#cg" x="1122.66" y="604.19"/><use href="#cg" x="1127.28" y="630.85"/><use href="#cg" x="1131.91" y="638.06"/><use href="#cg" x="1136.53" y="590.79"/><use href="#cg" x="1141.15" y="595.8"/><use href="#cg" x="1145.77" y="640.56"/><use href="#cg" x="1150.39" y="614.95"/><use href="#cg" x="1155.02" y="637.81"/><use href="#cg" x="1159.64" y="642.44"/><use href="#cg" x="1164.26" y="701.03"/><use href="#cg" x="1168.88" y="612.01"/><use href="#cg" x="1173.5" y="678.12"/><use href="#cg" x="1178.13" y="688.14"/><use href="#cg" x="1182.75" y="751.37"/><use href="#cg" x="1187.37" y="720.94"/><use href="#cg" x="1191.99" y="683.38"/><use href="#cg" x="1196.61" y="588.29"/><use href="#cg" x="1201.24" y="585.41"/><use href="#cg" x="1205.86" y="571.38"/><use href="#cg" x="1210.48" y="649.08"/><use href="#cg" x="1215.1" y="618.65"/><use href="#cg" x="1219.72" y="658.09"/><use href="#cg" x="1224.35" y="606.44"/><use href="#cg" x="1228.97" y="597.43"/><use href="#cg" x="1233.59" y="609.57"/><use href="#cg" x="1238.21" y="610.2"/><use href="#cg" x="1242.83" y="604.94"/><use href="#cg" x="1247.46" y="680.38"/><use href="#cg" x="1252.08" y="640.31"/><use href="#cg" x="1256.7" y="651.83"/><use href="#cg" x="1261.32" y="646.57"/><use href="#cg" x="1265.94" y="642.06"/><use href="#cg" x="1270.57" y="609.57"/><use href="#cg" x="1275.19" y="614.58"/><use href="#cg" x="1279.81" y="597.43"/><use href="#cg" x="1284.43" y="623.72"/><use href="#cg" x="1289.05" y="585.41"/><use href="#cg" x="1293.68" y="580.15"/><use href="#cg" x="1298.3" y="568"/><use href="#cg" x="1302.92" y="610.82"/><use href="#cg" x="1307.54" y="573.01"/><use href="#cg" x="1312.16" y="560.11"/><use href="#cg" x="1316.79" y="595.8"/><use href="#cg" x="1321.41" y="593.29"/><use href="#cg" x="1326.03" y="596.42"/><use href="#cg" x="1330.65" y="593.29"/><use href="#cg" x="1335.27" y="620.46"/><use href="#cg" x="1339.9" y="631.11"/><use href="#cg" x="1344.52" y="643.69"/><use href="#cg" x="1349.14" y="547.97"/><use href="#cg" x="1353.76" y="601.68"/><use href="#cg" x="1358.38" y="608.69"/><use href="#cg" x="1363.01" y="633.11"/><use href="#cg" x="1367.63" y="609.95"/><use href="#cg" x="1372.25" y="625.22"/><use href="#cg" x="1376.87" y="724.7"/><use href="#cg" x="1381.49" y="616.46"/><use href="#cg" x="1386.12" y="633.98"/><use href="#cg" x="1390.74" y="628.98"/><use href="#cg" x="1395.36" y="642.81"/><use href="#cg" x="1399.98" y="575.76"/><use href="#cg" x="1404.6" y="594.55"/><use href="#cg" x="1409.23" y="604.19"/><use href="#cg" x="1413.85" y="643.07"/><use href="#cg" x="1418.47" y="619.9"/><use href="#cg" x="1423.09" y="568.63"/><use href="#cg" x="1427.71" y="640.56"/><use href="#cg" x="1432.34" y="674.12"/><use href="#cg" x="1436.96" y="631.17"/><use href="#cg" x="1441.58" y="597.43"/><use href="#cg" x="1446.2" y="644.32"/><use href="#cg" x="1450.82" y="617.46"/><use href="#cg" x="1455.45" y="669.11"/><use href="#cg" x="1460.07" y="674.37"/><use href="#cg" x="1464.69" y="672.49"/><use href="#cg" x="1469.31" y="593.29"/><use href="#cg" x="1473.93" y="579.52"/><use href="#cg" x="1478.56" y="565.37"/><use href="#cg" x="1483.18" y="582.65"/><use href="#cg" x="1487.8" y="612.45"/><use href="#cg" x="1492.42" y="584.53"/><use href="#cg" x="1497.04" y="558.86"/><use href="#cg" x="1501.67" y="583.65"/><use href="#cg" x="1506.29" y="567.63"/><use href="#cg" x="1510.91" y="554.48"/><use href="#cg" x="1515.53" y="555.11"/><use href="#cg" x="1520.15" y="541.58"/><use href="#cg" x="1524.78" y="581.4"/><use href="#cg" x="1529.4" y="579.15"/><use href="#cg" x="1534.02" y="603.31"/><use href="#cg" x="1538.64" y="637.81"/><use href="#cg" x="1543.26" y="660.59"/><use href="#cg" x="1547.89" y="649.7"/><use href="#cg" x="1552.51" y="605.81"/><use href="#cg" x="1557.13" y="603.69"/><use href="#cg" x="1561.75" y="678.12"/><use href="#cg" x="1566.37" y="666.23"/><use href="#cg" x="1571" y="617.77"/><use href="#cg" x="1575.62" y="637.18"/><use href="#cg" x="1580.24" y="679.12"/><use href="#cg" x="1584.86" y="672.49"/><use href="#cg" x="1589.48" y="751.37"/><use href="#cg" x="1594.11" y="717.56"/><use href="#cg" x="1598.73" y="715.43"/><use href="#cg" x="1603.35" y="709.42"/><use href="#cg" x="1607.97" y="685.01"/><use href="#cg" x="1612.59" y="686.64"/><use href="#cg" x="1617.22" y="710.93"/><use href="#cg" x="1621.84" y="633.68"/><use href="#cg" x="1626.46" y="589.54"/><use href="#cg" x="1631.08" y="643.69"/><use href="#cg" x="1635.7" y="599.93"/><use href="#cg" x="1640.33" y="564.12"/><use href="#cg" x="1644.95" y="618.58"/><use href="#cg" x="1649.57" y="610.2"/><use href="#cg" x="1654.19" y="652.46"/><use href="#cg" x="1658.81" y="634.3"/><use href="#cg" x="1663.44" y="620.59"/><use href="#cg" x="1668.06" y="623.72"/><use href="#cg" x="1672.68" y="592.42"/><use href="#cg" x="1677.3" y="629.98"/><use href="#cg" x="1681.92" y="638.31"/><use href="#cg" x="1686.55" y="651.83"/><use href="#cg" x="1691.17" y="622.97"/><use href="#cg" x="1695.79" y="600.18"/><use href="#cg" x="1700.41" y="642.81"/><use href="#cg" x="1705.03" y="633.68"/><use href="#cg" x="1709.66" y="640.56"/><use href="#cg" x="1714.28" y="646.57"/><use href="#cg" x="1718.9" y="634.3"/><use href="#cg" x="1723.52" y="644.07"/><use href="#cg" x="1728.14" y="634.05"/><use href="#cg" x="1732.77" y="585.53"/><use href="#cg" x="1737.39" y="564.75"/><use href="#cg" x="1742.01" y="557.99"/><use href="#cg" x="1746.63" y="636.18"/><use href="#cg" x="1751.25" y="640.31"/><use href="#cg" x="1755.88" y="662.85"/><use href="#cg" x="1760.5" y="626.47"/><use href="#cg" x="1765.12" y="590.54"/><use href="#cg" x="1769.74" y="575.76"/><use href="#cg" x="1774.36" y="580.77"/><use href="#cg" x="1778.99" y="609.19"/><use href="#cg" x="1783.61" y="622.72"/><use href="#cg" x="1788.23" y="615.2"/><use href="#cg" x="1792.85" y="697.15"/><use href="#cg" x="1797.47" y="647.45"/><use href="#cg" x="1802.1" y="691.89"/>
</g>
<path d="M101.25 717.25h12.5M1806.5 717.25h-12.5M101.25 645.33h12.5M1806.5 645.33h-12.5M101.25 573.41h12.5M1806.5 573.41h-12.5M101.25 501.49h12.5M1806.5 501.49h-12.5M101.25 429.57h12.5M1806.5 429.57h-12.5M101.25 681.29h7.1M1806.5 681.29h-6.3M101.25 609.37h7.1M1806.5 609.37h-6.3M101.25 537.45h7.1M1806.5 537.45h-6.3M101.25 465.53h7.1M1806.5 465.53h-6.3M207.92 412.25v6.6M207.92 753.3v-6.6M313.81 412.25v12.8M313.81 753.3v-12.8M420.53 412.25v6.6M420.53 753.3v-6.6M526.42 412.25v12.8M526.42 753.3v-12.8M633.15 412.25v6.6M633.15 753.3v-6.6M739.04 412.25v12.8M739.04 753.3v-12.8M845.76 412.25v6.6M845.76 753.3v-6.6M951.65 412.25v12.8M951.65 753.3v-12.8M1058.37 412.25v6.6M1058.37 753.3v-6.6M1164.26 412.25v12.8M1164.26 753.3v-12.8M1270.98 412.25v6.6M1270.98 753.3v-6.6M1376.87 412.25v12.8M1376.87 753.3v-12.8M1483.59 412.25v6.6M1483.59 753.3v-6.6M1589.48 412.25v12.8M1589.48 753.3v-12.8M1696.21 412.25v6.6M1696.21 753.3v-6.6M1802.1 412.25v12.8M1802.1 753.3v-12.8" stroke="#000" stroke-width="2.2" fill="none" stroke-linecap="round"/>
<rect x="101.25" y="412.25" width="1705.25" height="341.05" fill="none" stroke="#000" stroke-width="2.1" stroke-linejoin="round"/>
<text class="tk" x="88.6" y="723.5" text-anchor="end">2</text>
<text class="tk" x="88.6" y="651.58" text-anchor="end">4</text>
<text class="tk" x="88.6" y="579.66" text-anchor="end">6</text>
<text class="tk" x="88.6" y="507.74" text-anchor="end">8</text>
<text class="tk" x="88.6" y="435.82" text-anchor="end">10</text>
<text class="yl" transform="translate(45.8 689.4) rotate(-90) scale(1 1.18)">GPP<tspan dx="1.7"> (g C m</tspan><tspan class="mn" dy="-15.2">−</tspan><tspan class="sp" dx="1.9">2</tspan><tspan dy="15.2"> d</tspan><tspan class="mn" dx="1.9" dy="-15.2">−</tspan><tspan class="sp" dx="0.9">1</tspan><tspan dx="1" dy="15.2">)</tspan></text>
<line x1="313.81" y1="781.05" x2="313.81" y2="1115.4" stroke="#8e8e8e" stroke-width="1.6" stroke-dasharray="4.2 4.3"/>
<line x1="526.42" y1="781.05" x2="526.42" y2="1115.4" stroke="#8e8e8e" stroke-width="1.6" stroke-dasharray="4.2 4.3"/>
<line x1="739.04" y1="781.05" x2="739.04" y2="1115.4" stroke="#8e8e8e" stroke-width="1.6" stroke-dasharray="4.2 4.3"/>
<line x1="951.65" y1="781.05" x2="951.65" y2="1115.4" stroke="#8e8e8e" stroke-width="1.6" stroke-dasharray="4.2 4.3"/>
<line x1="1164.26" y1="781.05" x2="1164.26" y2="1115.4" stroke="#8e8e8e" stroke-width="1.6" stroke-dasharray="4.2 4.3"/>
<line x1="1376.87" y1="781.05" x2="1376.87" y2="1115.4" stroke="#8e8e8e" stroke-width="1.6" stroke-dasharray="4.2 4.3"/>
<line x1="1589.48" y1="781.05" x2="1589.48" y2="1115.4" stroke="#8e8e8e" stroke-width="1.6" stroke-dasharray="4.2 4.3"/>
<line x1="1802.1" y1="781.05" x2="1802.1" y2="1115.4" stroke="#8e8e8e" stroke-width="1.6" stroke-dasharray="4.2 4.3"/>
<g clip-path="url(#clip2)">
<polyline fill="none" stroke="#383838" stroke-width="1.05" stroke-linejoin="round" points="105.82,1070.28 110.44,1021.48 115.07,1038.74 119.69,1064.59 124.31,1063.04 128.93,1082.89 133.55,1084.44 138.18,1068.42 142.8,1046.29 147.42,1055.29 152.04,1031.82 156.66,1045.26 161.29,1081.65 165.91,1058.7 170.53,970.09 175.15,1032.85 179.77,1001.73 184.4,987.66 189.02,972.67 193.64,1007.73 198.26,1048.57 202.88,1013.93 207.51,1041.54 212.13,1001.11 216.75,995.84 221.37,1020.14 225.99,980.94 230.62,996.15 235.24,1013.93 239.86,1022.2 244.48,1022.72 249.1,1008.76 253.73,1031.51 258.35,983.01 262.97,992.74 267.59,1014.45 272.21,1005.35 276.84,1003.59 281.46,1004.94 286.08,1030.16 290.7,1045.98 295.32,1023.55 299.95,1044.64 304.57,1039.47 309.19,1039.47 313.81,1024.58 318.43,1027.68 323.06,1065.62 327.68,1091.78 332.3,1089.92 336.92,1080.61 341.54,1053.22 346.17,1070.79 350.79,1087.85 355.41,1094.05 360.03,1092.19 364.65,1087.02 369.28,1077.51 373.9,1075.45 378.52,1067.69 383.14,1061.18 387.76,1026.03 392.39,1015.59 397.01,995.62 401.63,993.35 406.25,985.29 410.87,996.45 415.5,1001.28 420.12,997.18 424.74,998.52 429.36,998.83 433.98,987.35 438.61,1000.07 443.23,993.35 447.85,987.35 452.47,989.01 457.09,1040.91 461.72,994.9 466.34,963.58 470.96,979.39 475.58,1009.89 480.2,999.04 484.83,1008.86 489.45,1006.79 494.07,1017.13 498.69,1030.57 503.31,1033.67 507.94,1029.02 512.56,1042.46 517.18,1040.39 521.8,1061.18 526.42,1074.93 531.05,1074.41 535.67,1082.68 540.29,1082.17 544.91,1114.73 549.53,1103.36 554.16,1070.79 558.78,1097.16 563.4,1099.22 568.02,1097.98 572.64,1078.03 577.27,1088.37 581.89,1089.4 586.51,1067.18 591.13,1056.63 595.75,1078.55 600.38,1030.78 605,1053.74 609.62,1024.27 614.24,1008.76 618.86,1047.33 623.49,1029.44 628.11,1054.56 632.73,1054.56 637.35,997.91 641.97,994.39 646.6,1002.66 651.22,1026.34 655.84,990.77 660.46,1016.4 665.08,1005.96 669.71,1000.07 674.33,990.77 678.95,994.07 683.57,1021.26 688.19,990.77 692.82,987.87 697.44,995.42 702.06,1024.88 706.68,1026.95 711.3,1033.15 715.93,1032.12 720.55,1023.02 725.17,1059.42 729.79,1064.9 734.41,1072.86 739.04,1075.96 743.66,1062.52 748.28,1027.89 752.9,1080.61 757.52,1021.17 762.15,1017.03 766.77,1038.23 771.39,1062.01 776.01,1067.69 780.63,1056.84 785.26,1088.89 789.88,1093.85 794.5,1054.25 799.12,1065.31 803.74,1003.28 808.37,1014.97 812.99,1048.36 817.61,1000.18 822.23,1012.38 826.85,1052.7 831.48,1066.35 836.1,1017.03 840.72,977.33 845.34,1005.76 849.96,999.55 854.59,1034.09 859.21,983.53 863.83,1040.81 868.45,994.18 873.07,976.5 877.7,1019.41 882.32,997.8 886.94,1059.94 891.56,1000.28 896.18,976.08 900.81,965.44 905.43,1001.62 910.05,999.55 914.67,983.74 919.29,1004.41 923.92,1006.07 928.54,1072.14 933.16,1054.56 937.78,1024.79 942.4,1048.57 947.03,1027.37 951.65,1029.96 956.27,1043.4 960.89,1049.08 965.51,1082.68 970.14,1027.37 974.76,1027.37 979.38,1087.85 984,1058.9 988.62,1078.75 993.25,1098.71 997.87,1078.03 1002.49,1069.24 1007.11,1072.34 1011.73,1039.78 1016.36,1002.04 1020.98,1006.18 1025.6,981.98 1030.22,970.09 1034.84,1021.17 1039.47,1002.65 1044.09,998 1048.71,1014.54 1053.33,985.8 1057.95,1049.6 1062.58,1019.41 1067.2,1005.24 1071.82,992.83 1076.44,980.94 1081.06,977.53 1085.69,986.84 1090.31,991.08 1094.93,1010.93 1099.55,983.32 1104.17,969.57 1108.8,1004.72 1113.42,982.7 1118.04,967.81 1122.66,978.15 1127.28,995.93 1131.91,1012.99 1136.53,1005.76 1141.15,1004.72 1145.77,1017.13 1150.39,1029.02 1155.02,1037.6 1159.64,1061.18 1164.26,1038.23 1168.88,1035.95 1173.5,1050.43 1178.13,1068.42 1182.75,1104.6 1187.37,1081.13 1191.99,1091.16 1196.61,1062.01 1201.24,1059.94 1205.86,1050.63 1210.48,1074.93 1215.1,1067.38 1219.72,1099.02 1224.35,1084.54 1228.97,1035.13 1233.59,1027.37 1238.21,1048.57 1242.83,985.08 1247.46,1036.37 1252.08,1034.92 1256.7,1032.85 1261.32,1005.03 1265.94,938.87 1270.57,1034.09 1275.19,1015.69 1279.81,1032.23 1284.43,1025.3 1289.05,1000.59 1293.68,1031.82 1298.3,981.98 1302.92,993.87 1307.54,988.18 1312.16,987.87 1316.79,988.18 1321.41,1003.38 1326.03,1025.92 1330.65,1023.83 1335.27,999.24 1339.9,1004.41 1344.52,1059.94 1349.14,1027.98 1353.76,1023.64 1358.38,1031.29 1363.01,1038.84 1367.63,1018.16 1372.25,1028.81 1376.87,1092.81 1381.49,1041.33 1386.12,1052.7 1390.74,1045.98 1395.36,1088.06 1399.98,1017.03 1404.6,1054.25 1409.23,1059.42 1413.85,1089.92 1418.47,1095.61 1423.09,1020.14 1427.71,1062.52 1432.34,1065.11 1436.96,1036.68 1441.58,1043.4 1446.2,1032.54 1450.82,980.94 1455.45,993.04 1460.07,1043.91 1464.69,1034.09 1469.31,1033.58 1473.93,1045.98 1478.56,1054.77 1483.18,1071.83 1487.8,1077.51 1492.42,1031.82 1497.04,1007.21 1501.67,1016.31 1506.29,1040.5 1510.91,1013.93 1515.53,1001.62 1520.15,1010.93 1524.78,1020.75 1529.4,1010.41 1534.02,991.28 1538.64,985.08 1543.26,990.56 1547.89,994.38 1552.51,993.04 1557.13,1013.72 1561.75,1068.42 1566.37,1041.33 1571,1017.34 1575.62,1052.18 1580.24,1049.6 1584.86,1064.59 1589.48,1095.61 1594.11,1065.11 1598.73,1059.94 1603.35,1054.25 1607.97,1067.18 1612.59,1086.3 1617.22,1081.86 1621.84,1069.76 1626.46,1048.36 1631.08,1088.89 1635.7,1052.18 1640.33,1020.86 1644.95,1073.38 1649.57,1075.24 1654.19,1072.55 1658.81,1036.68 1663.44,1025.82 1668.06,1041.54 1672.68,1035.95 1677.3,1014.66 1681.92,1019.1 1686.55,1038.74 1691.17,1029.96 1695.79,1049.08 1700.41,1000.07 1705.03,996.45 1709.66,1029.44 1714.28,1005.76 1718.9,1015.06 1723.52,995.93 1728.14,999.04 1732.77,996.97 1737.39,991.59 1742.01,994.9 1746.63,1012.48 1751.25,975.05 1755.88,1023.85 1760.5,979.91 1765.12,1004.21 1769.74,1008.86 1774.36,1008.13 1778.99,990.25 1783.61,996.76 1788.23,1012.48 1792.85,1075.96 1797.47,1030.57 1802.1,1009.58"/>
<use href="#sq" x="105.82" y="1070.28"/><use href="#sq" x="110.44" y="1021.48"/><use href="#sq" x="115.07" y="1038.74"/><use href="#sq" x="119.69" y="1064.59"/><use href="#sq" x="124.31" y="1063.04"/><use href="#sq" x="128.93" y="1082.89"/><use href="#sq" x="133.55" y="1084.44"/><use href="#sq" x="138.18" y="1068.42"/><use href="#sq" x="142.8" y="1046.29"/><use href="#sq" x="147.42" y="1055.29"/><use href="#sq" x="152.04" y="1031.82"/><use href="#sq" x="156.66" y="1045.26"/><use href="#sq" x="161.29" y="1081.65"/><use href="#sq" x="165.91" y="1058.7"/><use href="#sq" x="170.53" y="970.09"/><use href="#sq" x="175.15" y="1032.85"/><use href="#sq" x="179.77" y="1001.73"/><use href="#sq" x="184.4" y="987.66"/><use href="#sq" x="189.02" y="972.67"/><use href="#sq" x="193.64" y="1007.73"/><use href="#sq" x="198.26" y="1048.57"/><use href="#sq" x="202.88" y="1013.93"/><use href="#sq" x="207.51" y="1041.54"/><use href="#sq" x="212.13" y="1001.11"/><use href="#sq" x="216.75" y="995.84"/><use href="#sq" x="221.37" y="1020.14"/><use href="#sq" x="225.99" y="980.94"/><use href="#sq" x="230.62" y="996.15"/><use href="#sq" x="235.24" y="1013.93"/><use href="#sq" x="239.86" y="1022.2"/><use href="#sq" x="244.48" y="1022.72"/><use href="#sq" x="249.1" y="1008.76"/><use href="#sq" x="253.73" y="1031.51"/><use href="#sq" x="258.35" y="983.01"/><use href="#sq" x="262.97" y="992.74"/><use href="#sq" x="267.59" y="1014.45"/><use href="#sq" x="272.21" y="1005.35"/><use href="#sq" x="276.84" y="1003.59"/><use href="#sq" x="281.46" y="1004.94"/><use href="#sq" x="286.08" y="1030.16"/><use href="#sq" x="290.7" y="1045.98"/><use href="#sq" x="295.32" y="1023.55"/><use href="#sq" x="299.95" y="1044.64"/><use href="#sq" x="304.57" y="1039.47"/><use href="#sq" x="309.19" y="1039.47"/><use href="#sq" x="313.81" y="1024.58"/><use href="#sq" x="318.43" y="1027.68"/><use href="#sq" x="323.06" y="1065.62"/><use href="#sq" x="327.68" y="1091.78"/><use href="#sq" x="332.3" y="1089.92"/><use href="#sq" x="336.92" y="1080.61"/><use href="#sq" x="341.54" y="1053.22"/><use href="#sq" x="346.17" y="1070.79"/><use href="#sq" x="350.79" y="1087.85"/><use href="#sq" x="355.41" y="1094.05"/><use href="#sq" x="360.03" y="1092.19"/><use href="#sq" x="364.65" y="1087.02"/><use href="#sq" x="369.28" y="1077.51"/><use href="#sq" x="373.9" y="1075.45"/><use href="#sq" x="378.52" y="1067.69"/><use href="#sq" x="383.14" y="1061.18"/><use href="#sq" x="387.76" y="1026.03"/><use href="#sq" x="392.39" y="1015.59"/><use href="#sq" x="397.01" y="995.62"/><use href="#sq" x="401.63" y="993.35"/><use href="#sq" x="406.25" y="985.29"/><use href="#sq" x="410.87" y="996.45"/><use href="#sq" x="415.5" y="1001.28"/><use href="#sq" x="420.12" y="997.18"/><use href="#sq" x="424.74" y="998.52"/><use href="#sq" x="429.36" y="998.83"/><use href="#sq" x="433.98" y="987.35"/><use href="#sq" x="438.61" y="1000.07"/><use href="#sq" x="443.23" y="993.35"/><use href="#sq" x="447.85" y="987.35"/><use href="#sq" x="452.47" y="989.01"/><use href="#sq" x="457.09" y="1040.91"/><use href="#sq" x="461.72" y="994.9"/><use href="#sq" x="466.34" y="963.58"/><use href="#sq" x="470.96" y="979.39"/><use href="#sq" x="475.58" y="1009.89"/><use href="#sq" x="480.2" y="999.04"/><use href="#sq" x="484.83" y="1008.86"/><use href="#sq" x="489.45" y="1006.79"/><use href="#sq" x="494.07" y="1017.13"/><use href="#sq" x="498.69" y="1030.57"/><use href="#sq" x="503.31" y="1033.67"/><use href="#sq" x="507.94" y="1029.02"/><use href="#sq" x="512.56" y="1042.46"/><use href="#sq" x="517.18" y="1040.39"/><use href="#sq" x="521.8" y="1061.18"/><use href="#sq" x="526.42" y="1074.93"/><use href="#sq" x="531.05" y="1074.41"/><use href="#sq" x="535.67" y="1082.68"/><use href="#sq" x="540.29" y="1082.17"/><use href="#sq" x="544.91" y="1114.73"/><use href="#sq" x="549.53" y="1103.36"/><use href="#sq" x="554.16" y="1070.79"/><use href="#sq" x="558.78" y="1097.16"/><use href="#sq" x="563.4" y="1099.22"/><use href="#sq" x="568.02" y="1097.98"/><use href="#sq" x="572.64" y="1078.03"/><use href="#sq" x="577.27" y="1088.37"/><use href="#sq" x="581.89" y="1089.4"/><use href="#sq" x="586.51" y="1067.18"/><use href="#sq" x="591.13" y="1056.63"/><use href="#sq" x="595.75" y="1078.55"/><use href="#sq" x="600.38" y="1030.78"/><use href="#sq" x="605" y="1053.74"/><use href="#sq" x="609.62" y="1024.27"/><use href="#sq" x="614.24" y="1008.76"/><use href="#sq" x="618.86" y="1047.33"/><use href="#sq" x="623.49" y="1029.44"/><use href="#sq" x="628.11" y="1054.56"/><use href="#sq" x="632.73" y="1054.56"/><use href="#sq" x="637.35" y="997.91"/><use href="#sq" x="641.97" y="994.39"/><use href="#sq" x="646.6" y="1002.66"/><use href="#sq" x="651.22" y="1026.34"/><use href="#sq" x="655.84" y="990.77"/><use href="#sq" x="660.46" y="1016.4"/><use href="#sq" x="665.08" y="1005.96"/><use href="#sq" x="669.71" y="1000.07"/><use href="#sq" x="674.33" y="990.77"/><use href="#sq" x="678.95" y="994.07"/><use href="#sq" x="683.57" y="1021.26"/><use href="#sq" x="688.19" y="990.77"/><use href="#sq" x="692.82" y="987.87"/><use href="#sq" x="697.44" y="995.42"/><use href="#sq" x="702.06" y="1024.88"/><use href="#sq" x="706.68" y="1026.95"/><use href="#sq" x="711.3" y="1033.15"/><use href="#sq" x="715.93" y="1032.12"/><use href="#sq" x="720.55" y="1023.02"/><use href="#sq" x="725.17" y="1059.42"/><use href="#sq" x="729.79" y="1064.9"/><use href="#sq" x="734.41" y="1072.86"/><use href="#sq" x="739.04" y="1075.96"/><use href="#sq" x="743.66" y="1062.52"/><use href="#sq" x="748.28" y="1027.89"/><use href="#sq" x="752.9" y="1080.61"/><use href="#sq" x="757.52" y="1021.17"/><use href="#sq" x="762.15" y="1017.03"/><use href="#sq" x="766.77" y="1038.23"/><use href="#sq" x="771.39" y="1062.01"/><use href="#sq" x="776.01" y="1067.69"/><use href="#sq" x="780.63" y="1056.84"/><use href="#sq" x="785.26" y="1088.89"/><use href="#sq" x="789.88" y="1093.85"/><use href="#sq" x="794.5" y="1054.25"/><use href="#sq" x="799.12" y="1065.31"/><use href="#sq" x="803.74" y="1003.28"/><use href="#sq" x="808.37" y="1014.97"/><use href="#sq" x="812.99" y="1048.36"/><use href="#sq" x="817.61" y="1000.18"/><use href="#sq" x="822.23" y="1012.38"/><use href="#sq" x="826.85" y="1052.7"/><use href="#sq" x="831.48" y="1066.35"/><use href="#sq" x="836.1" y="1017.03"/><use href="#sq" x="840.72" y="977.33"/><use href="#sq" x="845.34" y="1005.76"/><use href="#sq" x="849.96" y="999.55"/><use href="#sq" x="854.59" y="1034.09"/><use href="#sq" x="859.21" y="983.53"/><use href="#sq" x="863.83" y="1040.81"/><use href="#sq" x="868.45" y="994.18"/><use href="#sq" x="873.07" y="976.5"/><use href="#sq" x="877.7" y="1019.41"/><use href="#sq" x="882.32" y="997.8"/><use href="#sq" x="886.94" y="1059.94"/><use href="#sq" x="891.56" y="1000.28"/><use href="#sq" x="896.18" y="976.08"/><use href="#sq" x="900.81" y="965.44"/><use href="#sq" x="905.43" y="1001.62"/><use href="#sq" x="910.05" y="999.55"/><use href="#sq" x="914.67" y="983.74"/><use href="#sq" x="919.29" y="1004.41"/><use href="#sq" x="923.92" y="1006.07"/><use href="#sq" x="928.54" y="1072.14"/><use href="#sq" x="933.16" y="1054.56"/><use href="#sq" x="937.78" y="1024.79"/><use href="#sq" x="942.4" y="1048.57"/><use href="#sq" x="947.03" y="1027.37"/><use href="#sq" x="951.65" y="1029.96"/><use href="#sq" x="956.27" y="1043.4"/><use href="#sq" x="960.89" y="1049.08"/><use href="#sq" x="965.51" y="1082.68"/><use href="#sq" x="970.14" y="1027.37"/><use href="#sq" x="974.76" y="1027.37"/><use href="#sq" x="979.38" y="1087.85"/><use href="#sq" x="984" y="1058.9"/><use href="#sq" x="988.62" y="1078.75"/><use href="#sq" x="993.25" y="1098.71"/><use href="#sq" x="997.87" y="1078.03"/><use href="#sq" x="1002.49" y="1069.24"/><use href="#sq" x="1007.11" y="1072.34"/><use href="#sq" x="1011.73" y="1039.78"/><use href="#sq" x="1016.36" y="1002.04"/><use href="#sq" x="1020.98" y="1006.18"/><use href="#sq" x="1025.6" y="981.98"/><use href="#sq" x="1030.22" y="970.09"/><use href="#sq" x="1034.84" y="1021.17"/><use href="#sq" x="1039.47" y="1002.65"/><use href="#sq" x="1044.09" y="998"/><use href="#sq" x="1048.71" y="1014.54"/><use href="#sq" x="1053.33" y="985.8"/><use href="#sq" x="1057.95" y="1049.6"/><use href="#sq" x="1062.58" y="1019.41"/><use href="#sq" x="1067.2" y="1005.24"/><use href="#sq" x="1071.82" y="992.83"/><use href="#sq" x="1076.44" y="980.94"/><use href="#sq" x="1081.06" y="977.53"/><use href="#sq" x="1085.69" y="986.84"/><use href="#sq" x="1090.31" y="991.08"/><use href="#sq" x="1094.93" y="1010.93"/><use href="#sq" x="1099.55" y="983.32"/><use href="#sq" x="1104.17" y="969.57"/><use href="#sq" x="1108.8" y="1004.72"/><use href="#sq" x="1113.42" y="982.7"/><use href="#sq" x="1118.04" y="967.81"/><use href="#sq" x="1122.66" y="978.15"/><use href="#sq" x="1127.28" y="995.93"/><use href="#sq" x="1131.91" y="1012.99"/><use href="#sq" x="1136.53" y="1005.76"/><use href="#sq" x="1141.15" y="1004.72"/><use href="#sq" x="1145.77" y="1017.13"/><use href="#sq" x="1150.39" y="1029.02"/><use href="#sq" x="1155.02" y="1037.6"/><use href="#sq" x="1159.64" y="1061.18"/><use href="#sq" x="1164.26" y="1038.23"/><use href="#sq" x="1168.88" y="1035.95"/><use href="#sq" x="1173.5" y="1050.43"/><use href="#sq" x="1178.13" y="1068.42"/><use href="#sq" x="1182.75" y="1104.6"/><use href="#sq" x="1187.37" y="1081.13"/><use href="#sq" x="1191.99" y="1091.16"/><use href="#sq" x="1196.61" y="1062.01"/><use href="#sq" x="1201.24" y="1059.94"/><use href="#sq" x="1205.86" y="1050.63"/><use href="#sq" x="1210.48" y="1074.93"/><use href="#sq" x="1215.1" y="1067.38"/><use href="#sq" x="1219.72" y="1099.02"/><use href="#sq" x="1224.35" y="1084.54"/><use href="#sq" x="1228.97" y="1035.13"/><use href="#sq" x="1233.59" y="1027.37"/><use href="#sq" x="1238.21" y="1048.57"/><use href="#sq" x="1242.83" y="985.08"/><use href="#sq" x="1247.46" y="1036.37"/><use href="#sq" x="1252.08" y="1034.92"/><use href="#sq" x="1256.7" y="1032.85"/><use href="#sq" x="1261.32" y="1005.03"/><use href="#sq" x="1265.94" y="938.87"/><use href="#sq" x="1270.57" y="1034.09"/><use href="#sq" x="1275.19" y="1015.69"/><use href="#sq" x="1279.81" y="1032.23"/><use href="#sq" x="1284.43" y="1025.3"/><use href="#sq" x="1289.05" y="1000.59"/><use href="#sq" x="1293.68" y="1031.82"/><use href="#sq" x="1298.3" y="981.98"/><use href="#sq" x="1302.92" y="993.87"/><use href="#sq" x="1307.54" y="988.18"/><use href="#sq" x="1312.16" y="987.87"/><use href="#sq" x="1316.79" y="988.18"/><use href="#sq" x="1321.41" y="1003.38"/><use href="#sq" x="1326.03" y="1025.92"/><use href="#sq" x="1330.65" y="1023.83"/><use href="#sq" x="1335.27" y="999.24"/><use href="#sq" x="1339.9" y="1004.41"/><use href="#sq" x="1344.52" y="1059.94"/><use href="#sq" x="1349.14" y="1027.98"/><use href="#sq" x="1353.76" y="1023.64"/><use href="#sq" x="1358.38" y="1031.29"/><use href="#sq" x="1363.01" y="1038.84"/><use href="#sq" x="1367.63" y="1018.16"/><use href="#sq" x="1372.25" y="1028.81"/><use href="#sq" x="1376.87" y="1092.81"/><use href="#sq" x="1381.49" y="1041.33"/><use href="#sq" x="1386.12" y="1052.7"/><use href="#sq" x="1390.74" y="1045.98"/><use href="#sq" x="1395.36" y="1088.06"/><use href="#sq" x="1399.98" y="1017.03"/><use href="#sq" x="1404.6" y="1054.25"/><use href="#sq" x="1409.23" y="1059.42"/><use href="#sq" x="1413.85" y="1089.92"/><use href="#sq" x="1418.47" y="1095.61"/><use href="#sq" x="1423.09" y="1020.14"/><use href="#sq" x="1427.71" y="1062.52"/><use href="#sq" x="1432.34" y="1065.11"/><use href="#sq" x="1436.96" y="1036.68"/><use href="#sq" x="1441.58" y="1043.4"/><use href="#sq" x="1446.2" y="1032.54"/><use href="#sq" x="1450.82" y="980.94"/><use href="#sq" x="1455.45" y="993.04"/><use href="#sq" x="1460.07" y="1043.91"/><use href="#sq" x="1464.69" y="1034.09"/><use href="#sq" x="1469.31" y="1033.58"/><use href="#sq" x="1473.93" y="1045.98"/><use href="#sq" x="1478.56" y="1054.77"/><use href="#sq" x="1483.18" y="1071.83"/><use href="#sq" x="1487.8" y="1077.51"/><use href="#sq" x="1492.42" y="1031.82"/><use href="#sq" x="1497.04" y="1007.21"/><use href="#sq" x="1501.67" y="1016.31"/><use href="#sq" x="1506.29" y="1040.5"/><use href="#sq" x="1510.91" y="1013.93"/><use href="#sq" x="1515.53" y="1001.62"/><use href="#sq" x="1520.15" y="1010.93"/><use href="#sq" x="1524.78" y="1020.75"/><use href="#sq" x="1529.4" y="1010.41"/><use href="#sq" x="1534.02" y="991.28"/><use href="#sq" x="1538.64" y="985.08"/><use href="#sq" x="1543.26" y="990.56"/><use href="#sq" x="1547.89" y="994.38"/><use href="#sq" x="1552.51" y="993.04"/><use href="#sq" x="1557.13" y="1013.72"/><use href="#sq" x="1561.75" y="1068.42"/><use href="#sq" x="1566.37" y="1041.33"/><use href="#sq" x="1571" y="1017.34"/><use href="#sq" x="1575.62" y="1052.18"/><use href="#sq" x="1580.24" y="1049.6"/><use href="#sq" x="1584.86" y="1064.59"/><use href="#sq" x="1589.48" y="1095.61"/><use href="#sq" x="1594.11" y="1065.11"/><use href="#sq" x="1598.73" y="1059.94"/><use href="#sq" x="1603.35" y="1054.25"/><use href="#sq" x="1607.97" y="1067.18"/><use href="#sq" x="1612.59" y="1086.3"/><use href="#sq" x="1617.22" y="1081.86"/><use href="#sq" x="1621.84" y="1069.76"/><use href="#sq" x="1626.46" y="1048.36"/><use href="#sq" x="1631.08" y="1088.89"/><use href="#sq" x="1635.7" y="1052.18"/><use href="#sq" x="1640.33" y="1020.86"/><use href="#sq" x="1644.95" y="1073.38"/><use href="#sq" x="1649.57" y="1075.24"/><use href="#sq" x="1654.19" y="1072.55"/><use href="#sq" x="1658.81" y="1036.68"/><use href="#sq" x="1663.44" y="1025.82"/><use href="#sq" x="1668.06" y="1041.54"/><use href="#sq" x="1672.68" y="1035.95"/><use href="#sq" x="1677.3" y="1014.66"/><use href="#sq" x="1681.92" y="1019.1"/><use href="#sq" x="1686.55" y="1038.74"/><use href="#sq" x="1691.17" y="1029.96"/><use href="#sq" x="1695.79" y="1049.08"/><use href="#sq" x="1700.41" y="1000.07"/><use href="#sq" x="1705.03" y="996.45"/><use href="#sq" x="1709.66" y="1029.44"/><use href="#sq" x="1714.28" y="1005.76"/><use href="#sq" x="1718.9" y="1015.06"/><use href="#sq" x="1723.52" y="995.93"/><use href="#sq" x="1728.14" y="999.04"/><use href="#sq" x="1732.77" y="996.97"/><use href="#sq" x="1737.39" y="991.59"/><use href="#sq" x="1742.01" y="994.9"/><use href="#sq" x="1746.63" y="1012.48"/><use href="#sq" x="1751.25" y="975.05"/><use href="#sq" x="1755.88" y="1023.85"/><use href="#sq" x="1760.5" y="979.91"/><use href="#sq" x="1765.12" y="1004.21"/><use href="#sq" x="1769.74" y="1008.86"/><use href="#sq" x="1774.36" y="1008.13"/><use href="#sq" x="1778.99" y="990.25"/><use href="#sq" x="1783.61" y="996.76"/><use href="#sq" x="1788.23" y="1012.48"/><use href="#sq" x="1792.85" y="1075.96"/><use href="#sq" x="1797.47" y="1030.57"/><use href="#sq" x="1802.1" y="1009.58"/>
</g>
<g clip-path="url(#clip2)">
<polyline fill="none" stroke="#2a2aff" stroke-width="1.05" stroke-linejoin="round" points="105.82,1058.94 110.44,1014.12 115.07,1033.28 119.69,1026.39 124.31,1044.55 128.93,1013.87 133.55,1009.49 138.18,996.97 142.8,1006.98 147.42,1016.12 152.04,1002.6 156.66,995.09 161.29,978.81 165.91,979.44 170.53,1008.24 175.15,1047.05 179.77,1030.4 184.4,1047.3 189.02,948.34 193.64,912.66 198.26,941.46 202.88,865.71 207.51,864.46 212.13,823.51 216.75,882.36 221.37,884.24 225.99,913.91 230.62,852.19 235.24,894.13 239.86,946.46 244.48,933.94 249.1,945.84 253.73,943.08 258.35,920.8 262.97,927.68 267.59,974.43 272.21,932.32 276.84,970.68 281.46,986.08 286.08,996.34 290.7,1004.48 295.32,990.08 299.95,1027.64 304.57,1004.86 309.19,1004.86 313.81,1009.49 318.43,1043.29 323.06,1043.92 327.68,1078.98 332.3,1050.81 336.92,1077.47 341.54,1025.76 346.17,1007.61 350.79,941.21 355.41,891.12 360.03,939.58 364.65,955.85 369.28,956.23 373.9,916.16 378.52,891 383.14,881.36 387.76,883.24 392.39,900.14 397.01,886.99 401.63,885.11 406.25,943.33 410.87,930.81 415.5,934.57 420.12,948.97 424.74,907.65 429.36,972.8 433.98,862.58 438.61,915.79 443.23,905.77 447.85,900.76 452.47,961.54 457.09,955.9 461.72,932.07 466.34,923.93 470.96,928.31 475.58,900.76 480.2,977.31 484.83,986.95 489.45,1010.36 494.07,1029.15 498.69,1029.15 503.31,1026.39 507.94,1026.39 512.56,1027.02 517.18,969.05 521.8,1017.63 526.42,1073.72 531.05,1022.63 535.67,999.47 540.29,996.97 544.91,1081.48 549.53,1068.33 554.16,1052.06 558.78,1057.69 563.4,1040.79 568.02,1019.5 572.64,970.42 577.27,994.46 581.89,960.66 586.51,952.52 591.13,968.17 595.75,1033.28 600.38,1052.93 605,1019.76 609.62,1008.86 614.24,873.22 618.86,869.46 623.49,866.33 628.11,870.97 632.73,964.41 637.35,874.85 641.97,890.75 646.6,890.12 651.22,921.42 655.84,854.06 660.46,926.81 665.08,908.9 669.71,921.17 674.33,891.62 678.95,928.94 683.57,904.9 688.19,901.14 692.82,918.54 697.44,922.68 702.06,957.78 706.68,982.57 711.3,1005.73 715.93,976.94 720.55,976.31 725.17,1040.16 729.79,1011.99 734.41,1015.75 739.04,1028.89 743.66,1070.21 748.28,1002.35 752.9,1061.2 757.52,1021.38 762.15,1022.01 766.77,1045.17 771.39,1037.66 776.01,1035.78 780.63,1022.01 785.26,1014.12 789.88,989.21 794.5,955.65 799.12,930.19 803.74,939.33 808.37,893 812.99,922.43 817.61,915.79 822.23,950.85 826.85,953.73 831.48,929.19 836.1,919.55 840.72,928.31 845.34,951.85 849.96,873.22 854.59,966.04 859.21,958.53 863.83,936.2 868.45,910.78 873.07,938.7 877.7,926.81 882.32,883.24 886.94,928.06 891.56,895.13 896.18,915.79 900.81,942.96 905.43,1000.97 910.05,982.82 914.67,955.02 919.29,975.31 923.92,1030.15 928.54,1044.92 933.16,1036.66 937.78,1023.26 942.4,1028.89 947.03,1022.01 951.65,1005.36 956.27,1034.53 960.89,1028.64 965.51,1065.2 970.14,1026.14 974.76,1054.19 979.38,1060.82 984,1068.33 988.62,1029.52 993.25,1055.19 997.87,1021.38 1002.49,1017 1007.11,1008.61 1011.73,979.06 1016.36,951.52 1020.98,948.76 1025.6,922.31 1030.22,891.63 1034.84,922.06 1039.47,846.68 1044.09,820.64 1048.71,871.6 1053.33,901.15 1057.95,850.69 1062.58,829.66 1067.2,920.18 1071.82,881.62 1076.44,921.43 1081.06,938.71 1085.69,900.77 1090.31,955.02 1094.93,978.19 1099.55,922.06 1104.17,926.44 1108.8,973.81 1113.42,951.27 1118.04,939.34 1122.66,929.57 1127.28,963.79 1131.91,988.2 1136.53,965.04 1141.15,1010.74 1145.77,1022.63 1150.39,1014.87 1155.02,1006.61 1159.64,1032.4 1164.26,1022.01 1168.88,1007.86 1173.5,1032.65 1178.13,1075.2 1182.75,1103.37 1187.37,1069.56 1191.99,1078.95 1196.61,995.32 1201.24,1007.59 1205.86,974.03 1210.48,988.81 1215.1,1026.37 1219.72,1016.6 1224.35,991.94 1228.97,1003.2 1233.59,952.1 1238.21,1009.09 1242.83,903.64 1247.46,1001.95 1252.08,896.13 1256.7,943.71 1261.32,871.34 1265.94,932.44 1270.57,945.21 1275.19,873.22 1279.81,847.8 1284.43,851.94 1289.05,844.42 1293.68,899.51 1298.3,883.86 1302.92,888.24 1307.54,906.15 1312.16,874.1 1316.79,869.09 1321.41,930.44 1326.03,910.41 1330.65,932.69 1335.27,933.32 1339.9,960.63 1344.52,1035.13 1349.14,998.82 1353.76,966.02 1358.38,967.52 1363.01,1011.59 1367.63,993.81 1372.25,1005.71 1376.87,1055.79 1381.49,988.81 1386.12,996.94 1390.74,981.29 1395.36,1024.11 1399.98,946.46 1404.6,1019.86 1409.23,1009.84 1413.85,1048.28 1418.47,1037.01 1423.09,978.16 1427.71,1047.9 1432.34,1034.88 1436.96,1001.7 1441.58,986.3 1446.2,954.23 1450.82,901.02 1455.45,931.19 1460.07,957.11 1464.69,953.98 1469.31,961.24 1473.93,894.13 1478.56,948.34 1483.18,916.67 1487.8,967.52 1492.42,934.95 1497.04,873.6 1501.67,888.24 1506.29,890.5 1510.91,923.3 1515.53,928.94 1520.15,904.15 1524.78,951.22 1529.4,946.71 1534.02,950.47 1538.64,950.85 1543.26,988.81 1547.89,1001.33 1552.51,987.3 1557.13,992.19 1561.75,1044.15 1566.37,1015.72 1571,1008.21 1575.62,1030.12 1580.24,1047.65 1584.86,1026.99 1589.48,1047.9 1594.11,1062.43 1598.73,1059.55 1603.35,1049.53 1607.97,1044.52 1612.59,1063.68 1617.22,1061.42 1621.84,1010.09 1626.46,973.78 1631.08,974.41 1635.7,922.3 1640.33,875.47 1644.95,985.68 1649.57,998.2 1654.19,1063.68 1658.81,1049.53 1663.44,1030.12 1668.06,1017.35 1672.68,1034.88 1677.3,950.85 1681.92,914.79 1686.55,959.61 1691.17,896.38 1695.79,943.58 1700.41,867.84 1705.03,908.28 1709.66,898.89 1714.28,887.87 1718.9,878.23 1723.52,881.36 1728.14,900.14 1732.77,938.95 1737.39,921.17 1742.01,908.9 1746.63,949.97 1751.25,935.82 1755.88,947.09 1760.5,953.35 1765.12,969.4 1769.74,969.02 1774.36,976.91 1778.99,978.16 1783.61,1001.33 1788.23,1003.2 1792.85,1048.65 1797.47,1007.34 1802.1,1036.38"/>
<use href="#db" x="105.82" y="1058.94"/><use href="#db" x="110.44" y="1014.12"/><use href="#db" x="115.07" y="1033.28"/><use href="#db" x="119.69" y="1026.39"/><use href="#db" x="124.31" y="1044.55"/><use href="#db" x="128.93" y="1013.87"/><use href="#db" x="133.55" y="1009.49"/><use href="#db" x="138.18" y="996.97"/><use href="#db" x="142.8" y="1006.98"/><use href="#db" x="147.42" y="1016.12"/><use href="#db" x="152.04" y="1002.6"/><use href="#db" x="156.66" y="995.09"/><use href="#db" x="161.29" y="978.81"/><use href="#db" x="165.91" y="979.44"/><use href="#db" x="170.53" y="1008.24"/><use href="#db" x="175.15" y="1047.05"/><use href="#db" x="179.77" y="1030.4"/><use href="#db" x="184.4" y="1047.3"/><use href="#db" x="189.02" y="948.34"/><use href="#db" x="193.64" y="912.66"/><use href="#db" x="198.26" y="941.46"/><use href="#db" x="202.88" y="865.71"/><use href="#db" x="207.51" y="864.46"/><use href="#db" x="212.13" y="823.51"/><use href="#db" x="216.75" y="882.36"/><use href="#db" x="221.37" y="884.24"/><use href="#db" x="225.99" y="913.91"/><use href="#db" x="230.62" y="852.19"/><use href="#db" x="235.24" y="894.13"/><use href="#db" x="239.86" y="946.46"/><use href="#db" x="244.48" y="933.94"/><use href="#db" x="249.1" y="945.84"/><use href="#db" x="253.73" y="943.08"/><use href="#db" x="258.35" y="920.8"/><use href="#db" x="262.97" y="927.68"/><use href="#db" x="267.59" y="974.43"/><use href="#db" x="272.21" y="932.32"/><use href="#db" x="276.84" y="970.68"/><use href="#db" x="281.46" y="986.08"/><use href="#db" x="286.08" y="996.34"/><use href="#db" x="290.7" y="1004.48"/><use href="#db" x="295.32" y="990.08"/><use href="#db" x="299.95" y="1027.64"/><use href="#db" x="304.57" y="1004.86"/><use href="#db" x="309.19" y="1004.86"/><use href="#db" x="313.81" y="1009.49"/><use href="#db" x="318.43" y="1043.29"/><use href="#db" x="323.06" y="1043.92"/><use href="#db" x="327.68" y="1078.98"/><use href="#db" x="332.3" y="1050.81"/><use href="#db" x="336.92" y="1077.47"/><use href="#db" x="341.54" y="1025.76"/><use href="#db" x="346.17" y="1007.61"/><use href="#db" x="350.79" y="941.21"/><use href="#db" x="355.41" y="891.12"/><use href="#db" x="360.03" y="939.58"/><use href="#db" x="364.65" y="955.85"/><use href="#db" x="369.28" y="956.23"/><use href="#db" x="373.9" y="916.16"/><use href="#db" x="378.52" y="891"/><use href="#db" x="383.14" y="881.36"/><use href="#db" x="387.76" y="883.24"/><use href="#db" x="392.39" y="900.14"/><use href="#db" x="397.01" y="886.99"/><use href="#db" x="401.63" y="885.11"/><use href="#db" x="406.25" y="943.33"/><use href="#db" x="410.87" y="930.81"/><use href="#db" x="415.5" y="934.57"/><use href="#db" x="420.12" y="948.97"/><use href="#db" x="424.74" y="907.65"/><use href="#db" x="429.36" y="972.8"/><use href="#db" x="433.98" y="862.58"/><use href="#db" x="438.61" y="915.79"/><use href="#db" x="443.23" y="905.77"/><use href="#db" x="447.85" y="900.76"/><use href="#db" x="452.47" y="961.54"/><use href="#db" x="457.09" y="955.9"/><use href="#db" x="461.72" y="932.07"/><use href="#db" x="466.34" y="923.93"/><use href="#db" x="470.96" y="928.31"/><use href="#db" x="475.58" y="900.76"/><use href="#db" x="480.2" y="977.31"/><use href="#db" x="484.83" y="986.95"/><use href="#db" x="489.45" y="1010.36"/><use href="#db" x="494.07" y="1029.15"/><use href="#db" x="498.69" y="1029.15"/><use href="#db" x="503.31" y="1026.39"/><use href="#db" x="507.94" y="1026.39"/><use href="#db" x="512.56" y="1027.02"/><use href="#db" x="517.18" y="969.05"/><use href="#db" x="521.8" y="1017.63"/><use href="#db" x="526.42" y="1073.72"/><use href="#db" x="531.05" y="1022.63"/><use href="#db" x="535.67" y="999.47"/><use href="#db" x="540.29" y="996.97"/><use href="#db" x="544.91" y="1081.48"/><use href="#db" x="549.53" y="1068.33"/><use href="#db" x="554.16" y="1052.06"/><use href="#db" x="558.78" y="1057.69"/><use href="#db" x="563.4" y="1040.79"/><use href="#db" x="568.02" y="1019.5"/><use href="#db" x="572.64" y="970.42"/><use href="#db" x="577.27" y="994.46"/><use href="#db" x="581.89" y="960.66"/><use href="#db" x="586.51" y="952.52"/><use href="#db" x="591.13" y="968.17"/><use href="#db" x="595.75" y="1033.28"/><use href="#db" x="600.38" y="1052.93"/><use href="#db" x="605" y="1019.76"/><use href="#db" x="609.62" y="1008.86"/><use href="#db" x="614.24" y="873.22"/><use href="#db" x="618.86" y="869.46"/><use href="#db" x="623.49" y="866.33"/><use href="#db" x="628.11" y="870.97"/><use href="#db" x="632.73" y="964.41"/><use href="#db" x="637.35" y="874.85"/><use href="#db" x="641.97" y="890.75"/><use href="#db" x="646.6" y="890.12"/><use href="#db" x="651.22" y="921.42"/><use href="#db" x="655.84" y="854.06"/><use href="#db" x="660.46" y="926.81"/><use href="#db" x="665.08" y="908.9"/><use href="#db" x="669.71" y="921.17"/><use href="#db" x="674.33" y="891.62"/><use href="#db" x="678.95" y="928.94"/><use href="#db" x="683.57" y="904.9"/><use href="#db" x="688.19" y="901.14"/><use href="#db" x="692.82" y="918.54"/><use href="#db" x="697.44" y="922.68"/><use href="#db" x="702.06" y="957.78"/><use href="#db" x="706.68" y="982.57"/><use href="#db" x="711.3" y="1005.73"/><use href="#db" x="715.93" y="976.94"/><use href="#db" x="720.55" y="976.31"/><use href="#db" x="725.17" y="1040.16"/><use href="#db" x="729.79" y="1011.99"/><use href="#db" x="734.41" y="1015.75"/><use href="#db" x="739.04" y="1028.89"/><use href="#db" x="743.66" y="1070.21"/><use href="#db" x="748.28" y="1002.35"/><use href="#db" x="752.9" y="1061.2"/><use href="#db" x="757.52" y="1021.38"/><use href="#db" x="762.15" y="1022.01"/><use href="#db" x="766.77" y="1045.17"/><use href="#db" x="771.39" y="1037.66"/><use href="#db" x="776.01" y="1035.78"/><use href="#db" x="780.63" y="1022.01"/><use href="#db" x="785.26" y="1014.12"/><use href="#db" x="789.88" y="989.21"/><use href="#db" x="794.5" y="955.65"/><use href="#db" x="799.12" y="930.19"/><use href="#db" x="803.74" y="939.33"/><use href="#db" x="808.37" y="893"/><use href="#db" x="812.99" y="922.43"/><use href="#db" x="817.61" y="915.79"/><use href="#db" x="822.23" y="950.85"/><use href="#db" x="826.85" y="953.73"/><use href="#db" x="831.48" y="929.19"/><use href="#db" x="836.1" y="919.55"/><use href="#db" x="840.72" y="928.31"/><use href="#db" x="845.34" y="951.85"/><use href="#db" x="849.96" y="873.22"/><use href="#db" x="854.59" y="966.04"/><use href="#db" x="859.21" y="958.53"/><use href="#db" x="863.83" y="936.2"/><use href="#db" x="868.45" y="910.78"/><use href="#db" x="873.07" y="938.7"/><use href="#db" x="877.7" y="926.81"/><use href="#db" x="882.32" y="883.24"/><use href="#db" x="886.94" y="928.06"/><use href="#db" x="891.56" y="895.13"/><use href="#db" x="896.18" y="915.79"/><use href="#db" x="900.81" y="942.96"/><use href="#db" x="905.43" y="1000.97"/><use href="#db" x="910.05" y="982.82"/><use href="#db" x="914.67" y="955.02"/><use href="#db" x="919.29" y="975.31"/><use href="#db" x="923.92" y="1030.15"/><use href="#db" x="928.54" y="1044.92"/><use href="#db" x="933.16" y="1036.66"/><use href="#db" x="937.78" y="1023.26"/><use href="#db" x="942.4" y="1028.89"/><use href="#db" x="947.03" y="1022.01"/><use href="#db" x="951.65" y="1005.36"/><use href="#db" x="956.27" y="1034.53"/><use href="#db" x="960.89" y="1028.64"/><use href="#db" x="965.51" y="1065.2"/><use href="#db" x="970.14" y="1026.14"/><use href="#db" x="974.76" y="1054.19"/><use href="#db" x="979.38" y="1060.82"/><use href="#db" x="984" y="1068.33"/><use href="#db" x="988.62" y="1029.52"/><use href="#db" x="993.25" y="1055.19"/><use href="#db" x="997.87" y="1021.38"/><use href="#db" x="1002.49" y="1017"/><use href="#db" x="1007.11" y="1008.61"/><use href="#db" x="1011.73" y="979.06"/><use href="#db" x="1016.36" y="951.52"/><use href="#db" x="1020.98" y="948.76"/><use href="#db" x="1025.6" y="922.31"/><use href="#db" x="1030.22" y="891.63"/><use href="#db" x="1034.84" y="922.06"/><use href="#db" x="1039.47" y="846.68"/><use href="#db" x="1044.09" y="820.64"/><use href="#db" x="1048.71" y="871.6"/><use href="#db" x="1053.33" y="901.15"/><use href="#db" x="1057.95" y="850.69"/><use href="#db" x="1062.58" y="829.66"/><use href="#db" x="1067.2" y="920.18"/><use href="#db" x="1071.82" y="881.62"/><use href="#db" x="1076.44" y="921.43"/><use href="#db" x="1081.06" y="938.71"/><use href="#db" x="1085.69" y="900.77"/><use href="#db" x="1090.31" y="955.02"/><use href="#db" x="1094.93" y="978.19"/><use href="#db" x="1099.55" y="922.06"/><use href="#db" x="1104.17" y="926.44"/><use href="#db" x="1108.8" y="973.81"/><use href="#db" x="1113.42" y="951.27"/><use href="#db" x="1118.04" y="939.34"/><use href="#db" x="1122.66" y="929.57"/><use href="#db" x="1127.28" y="963.79"/><use href="#db" x="1131.91" y="988.2"/><use href="#db" x="1136.53" y="965.04"/><use href="#db" x="1141.15" y="1010.74"/><use href="#db" x="1145.77" y="1022.63"/><use href="#db" x="1150.39" y="1014.87"/><use href="#db" x="1155.02" y="1006.61"/><use href="#db" x="1159.64" y="1032.4"/><use href="#db" x="1164.26" y="1022.01"/><use href="#db" x="1168.88" y="1007.86"/><use href="#db" x="1173.5" y="1032.65"/><use href="#db" x="1178.13" y="1075.2"/><use href="#db" x="1182.75" y="1103.37"/><use href="#db" x="1187.37" y="1069.56"/><use href="#db" x="1191.99" y="1078.95"/><use href="#db" x="1196.61" y="995.32"/><use href="#db" x="1201.24" y="1007.59"/><use href="#db" x="1205.86" y="974.03"/><use href="#db" x="1210.48" y="988.81"/><use href="#db" x="1215.1" y="1026.37"/><use href="#db" x="1219.72" y="1016.6"/><use href="#db" x="1224.35" y="991.94"/><use href="#db" x="1228.97" y="1003.2"/><use href="#db" x="1233.59" y="952.1"/><use href="#db" x="1238.21" y="1009.09"/><use href="#db" x="1242.83" y="903.64"/><use href="#db" x="1247.46" y="1001.95"/><use href="#db" x="1252.08" y="896.13"/><use href="#db" x="1256.7" y="943.71"/><use href="#db" x="1261.32" y="871.34"/><use href="#db" x="1265.94" y="932.44"/><use href="#db" x="1270.57" y="945.21"/><use href="#db" x="1275.19" y="873.22"/><use href="#db" x="1279.81" y="847.8"/><use href="#db" x="1284.43" y="851.94"/><use href="#db" x="1289.05" y="844.42"/><use href="#db" x="1293.68" y="899.51"/><use href="#db" x="1298.3" y="883.86"/><use href="#db" x="1302.92" y="888.24"/><use href="#db" x="1307.54" y="906.15"/><use href="#db" x="1312.16" y="874.1"/><use href="#db" x="1316.79" y="869.09"/><use href="#db" x="1321.41" y="930.44"/><use href="#db" x="1326.03" y="910.41"/><use href="#db" x="1330.65" y="932.69"/><use href="#db" x="1335.27" y="933.32"/><use href="#db" x="1339.9" y="960.63"/><use href="#db" x="1344.52" y="1035.13"/><use href="#db" x="1349.14" y="998.82"/><use href="#db" x="1353.76" y="966.02"/><use href="#db" x="1358.38" y="967.52"/><use href="#db" x="1363.01" y="1011.59"/><use href="#db" x="1367.63" y="993.81"/><use href="#db" x="1372.25" y="1005.71"/><use href="#db" x="1376.87" y="1055.79"/><use href="#db" x="1381.49" y="988.81"/><use href="#db" x="1386.12" y="996.94"/><use href="#db" x="1390.74" y="981.29"/><use href="#db" x="1395.36" y="1024.11"/><use href="#db" x="1399.98" y="946.46"/><use href="#db" x="1404.6" y="1019.86"/><use href="#db" x="1409.23" y="1009.84"/><use href="#db" x="1413.85" y="1048.28"/><use href="#db" x="1418.47" y="1037.01"/><use href="#db" x="1423.09" y="978.16"/><use href="#db" x="1427.71" y="1047.9"/><use href="#db" x="1432.34" y="1034.88"/><use href="#db" x="1436.96" y="1001.7"/><use href="#db" x="1441.58" y="986.3"/><use href="#db" x="1446.2" y="954.23"/><use href="#db" x="1450.82" y="901.02"/><use href="#db" x="1455.45" y="931.19"/><use href="#db" x="1460.07" y="957.11"/><use href="#db" x="1464.69" y="953.98"/><use href="#db" x="1469.31" y="961.24"/><use href="#db" x="1473.93" y="894.13"/><use href="#db" x="1478.56" y="948.34"/><use href="#db" x="1483.18" y="916.67"/><use href="#db" x="1487.8" y="967.52"/><use href="#db" x="1492.42" y="934.95"/><use href="#db" x="1497.04" y="873.6"/><use href="#db" x="1501.67" y="888.24"/><use href="#db" x="1506.29" y="890.5"/><use href="#db" x="1510.91" y="923.3"/><use href="#db" x="1515.53" y="928.94"/><use href="#db" x="1520.15" y="904.15"/><use href="#db" x="1524.78" y="951.22"/><use href="#db" x="1529.4" y="946.71"/><use href="#db" x="1534.02" y="950.47"/><use href="#db" x="1538.64" y="950.85"/><use href="#db" x="1543.26" y="988.81"/><use href="#db" x="1547.89" y="1001.33"/><use href="#db" x="1552.51" y="987.3"/><use href="#db" x="1557.13" y="992.19"/><use href="#db" x="1561.75" y="1044.15"/><use href="#db" x="1566.37" y="1015.72"/><use href="#db" x="1571" y="1008.21"/><use href="#db" x="1575.62" y="1030.12"/><use href="#db" x="1580.24" y="1047.65"/><use href="#db" x="1584.86" y="1026.99"/><use href="#db" x="1589.48" y="1047.9"/><use href="#db" x="1594.11" y="1062.43"/><use href="#db" x="1598.73" y="1059.55"/><use href="#db" x="1603.35" y="1049.53"/><use href="#db" x="1607.97" y="1044.52"/><use href="#db" x="1612.59" y="1063.68"/><use href="#db" x="1617.22" y="1061.42"/><use href="#db" x="1621.84" y="1010.09"/><use href="#db" x="1626.46" y="973.78"/><use href="#db" x="1631.08" y="974.41"/><use href="#db" x="1635.7" y="922.3"/><use href="#db" x="1640.33" y="875.47"/><use href="#db" x="1644.95" y="985.68"/><use href="#db" x="1649.57" y="998.2"/><use href="#db" x="1654.19" y="1063.68"/><use href="#db" x="1658.81" y="1049.53"/><use href="#db" x="1663.44" y="1030.12"/><use href="#db" x="1668.06" y="1017.35"/><use href="#db" x="1672.68" y="1034.88"/><use href="#db" x="1677.3" y="950.85"/><use href="#db" x="1681.92" y="914.79"/><use href="#db" x="1686.55" y="959.61"/><use href="#db" x="1691.17" y="896.38"/><use href="#db" x="1695.79" y="943.58"/><use href="#db" x="1700.41" y="867.84"/><use href="#db" x="1705.03" y="908.28"/><use href="#db" x="1709.66" y="898.89"/><use href="#db" x="1714.28" y="887.87"/><use href="#db" x="1718.9" y="878.23"/><use href="#db" x="1723.52" y="881.36"/><use href="#db" x="1728.14" y="900.14"/><use href="#db" x="1732.77" y="938.95"/><use href="#db" x="1737.39" y="921.17"/><use href="#db" x="1742.01" y="908.9"/><use href="#db" x="1746.63" y="949.97"/><use href="#db" x="1751.25" y="935.82"/><use href="#db" x="1755.88" y="947.09"/><use href="#db" x="1760.5" y="953.35"/><use href="#db" x="1765.12" y="969.4"/><use href="#db" x="1769.74" y="969.02"/><use href="#db" x="1774.36" y="976.91"/><use href="#db" x="1778.99" y="978.16"/><use href="#db" x="1783.61" y="1001.33"/><use href="#db" x="1788.23" y="1003.2"/><use href="#db" x="1792.85" y="1048.65"/><use href="#db" x="1797.47" y="1007.34"/><use href="#db" x="1802.1" y="1036.38"/>
</g>
<path d="M101.25 1086.1h12.5M1806.5 1086.1h-12.5M101.25 1026.78h12.5M1806.5 1026.78h-12.5M101.25 967.46h12.5M1806.5 967.46h-12.5M101.25 908.14h12.5M1806.5 908.14h-12.5M101.25 848.82h12.5M1806.5 848.82h-12.5M101.25 789.5h12.5M1806.5 789.5h-12.5M101.25 1056.44h7.1M1806.5 1056.44h-6.3M101.25 997.12h7.1M1806.5 997.12h-6.3M101.25 937.8h7.1M1806.5 937.8h-6.3M101.25 878.48h7.1M1806.5 878.48h-6.3M101.25 819.16h7.1M1806.5 819.16h-6.3M207.92 774.7v6.6M207.92 1115.4v-6.6M313.81 774.7v12.8M313.81 1115.4v-12.8M420.53 774.7v6.6M420.53 1115.4v-6.6M526.42 774.7v12.8M526.42 1115.4v-12.8M633.15 774.7v6.6M633.15 1115.4v-6.6M739.04 774.7v12.8M739.04 1115.4v-12.8M845.76 774.7v6.6M845.76 1115.4v-6.6M951.65 774.7v12.8M951.65 1115.4v-12.8M1058.37 774.7v6.6M1058.37 1115.4v-6.6M1164.26 774.7v12.8M1164.26 1115.4v-12.8M1270.98 774.7v6.6M1270.98 1115.4v-6.6M1376.87 774.7v12.8M1376.87 1115.4v-12.8M1483.59 774.7v6.6M1483.59 1115.4v-6.6M1589.48 774.7v12.8M1589.48 1115.4v-12.8M1696.21 774.7v6.6M1696.21 1115.4v-6.6M1802.1 774.7v12.8M1802.1 1115.4v-12.8" stroke="#000" stroke-width="2.2" fill="none" stroke-linecap="round"/>
<rect x="101.25" y="774.7" width="1705.25" height="340.7" fill="none" stroke="#000" stroke-width="2.1" stroke-linejoin="round"/>
<text class="tk" x="88.6" y="1092.35" text-anchor="end">2</text>
<text class="tk" x="88.6" y="1033.03" text-anchor="end">4</text>
<text class="tk" x="88.6" y="973.71" text-anchor="end">6</text>
<text class="tk" x="88.6" y="914.39" text-anchor="end">8</text>
<text class="tk" x="88.6" y="855.07" text-anchor="end">10</text>
<text class="tk" x="88.6" y="795.75" text-anchor="end">12</text>
<text class="yl" transform="translate(45.8 1050.9) rotate(-90) scale(1 1.18)">GPP<tspan dx="1.7"> (g C m</tspan><tspan class="mn" dy="-15.2">−</tspan><tspan class="sp" dx="1.9">2</tspan><tspan dy="15.2"> d</tspan><tspan class="mn" dx="1.9" dy="-15.2">−</tspan><tspan class="sp" dx="0.9">1</tspan><tspan dx="1" dy="15.2">)</tspan></text>
<text class="yr" x="210.02" y="25.9" text-anchor="middle">2003</text>
<text class="jl" x="186.42" y="1147.5" textLength="42.2" lengthAdjust="spacingAndGlyphs">1-Jul</text>
<text class="yr" x="419.63" y="25.6" text-anchor="middle">2004</text>
<text class="jl" x="402.03" y="1147.5" textLength="42.2" lengthAdjust="spacingAndGlyphs">1-Jul</text>
<text class="yr" x="632.25" y="25.1" text-anchor="middle">2005</text>
<text class="jl" x="615.55" y="1145.9" textLength="42.2" lengthAdjust="spacingAndGlyphs">1-Jul</text>
<text class="yr" x="845.96" y="24.6" text-anchor="middle">2006</text>
<text class="jl" x="827.36" y="1146.2" textLength="42.2" lengthAdjust="spacingAndGlyphs">1-Jul</text>
<text class="yr" x="1060.67" y="25.6" text-anchor="middle">2007</text>
<text class="jl" x="1041.67" y="1146.2" textLength="42.2" lengthAdjust="spacingAndGlyphs">1-Jul</text>
<text class="yr" x="1270.28" y="25.1" text-anchor="middle">2008</text>
<text class="jl" x="1253.18" y="1146.3" textLength="42.2" lengthAdjust="spacingAndGlyphs">1-Jul</text>
<text class="yr" x="1483.79" y="24.6" text-anchor="middle">2009</text>
<text class="jl" x="1462.99" y="1145" textLength="42.2" lengthAdjust="spacingAndGlyphs">1-Jul</text>
<text class="yr" x="1696.91" y="23.5" text-anchor="middle">2010</text>
<text class="jl" x="1677.21" y="1145" textLength="42.2" lengthAdjust="spacingAndGlyphs">1-Jul</text>
<text class="xl" x="959" y="1182.4" text-anchor="middle">WOY (8-day period)</text>
<line x1="145.3" y1="73" x2="195.5" y2="73" stroke="#444" stroke-width="1.5"/>
<use href="#sq" x="170" y="73"/>
<text class="lg" x="199.4" y="79.75">GPP<tspan class="sb" dx="-1.6" dy="9.6">EC</tspan></text>
<line x1="145.3" y1="106.9" x2="195.5" y2="106.9" stroke="#ff4040" stroke-width="1.5"/>
<use href="#cr" x="170" y="106.9"/>
<text class="lg" x="199.4" y="113.65">GPP<tspan class="sb" dx="-1.6" dy="9.6">SIF</tspan></text>
<line x1="145.3" y1="446.4" x2="195.5" y2="446.4" stroke="#40ff40" stroke-width="1.5"/>
<use href="#cg" x="170" y="446.4"/>
<text class="lg" x="199.4" y="453.15">GPP<tspan class="sb" dx="-1.6" dy="9.6">MOD</tspan></text>
<line x1="145.3" y1="806" x2="195.5" y2="806" stroke="#4040ff" stroke-width="1.5"/>
<use href="#db" x="170" y="806"/>
<text class="lg" x="199.4" y="812.75">GPP<tspan class="sb" dx="-1.6" dy="9.6">BESS</tspan></text>
</svg></body></html>
